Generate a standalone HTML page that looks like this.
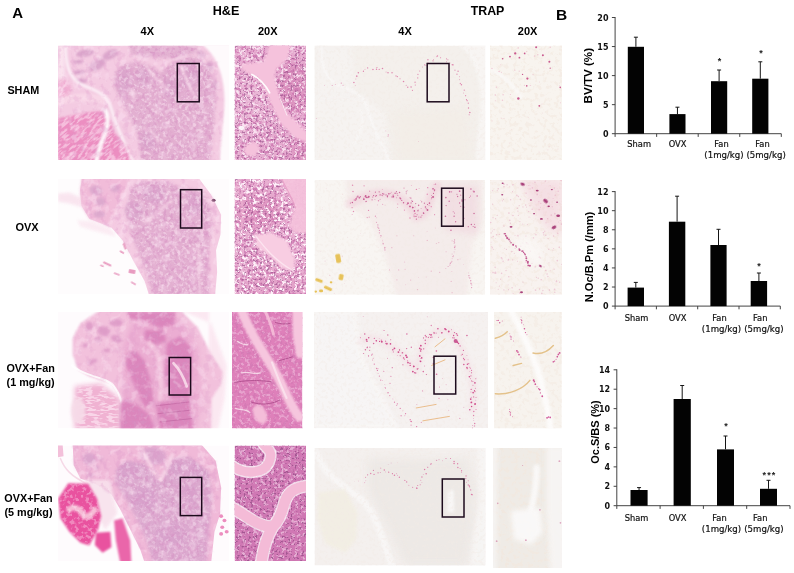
<!DOCTYPE html>
<html lang="en"><head><meta charset="utf-8"><title>Figure</title>
<style>html,body{margin:0;padding:0;background:#fff;}svg{display:block}text{font-family:"Liberation Sans",sans-serif;fill:#000}.b{font-weight:bold}.x{font-family:"DejaVu Sans","Liberation Sans",sans-serif;font-size:8.3px;text-anchor:middle;fill:#111;stroke:#111;stroke-width:.2px}.t{font-family:"DejaVu Sans","Liberation Sans",sans-serif;font-weight:bold;font-size:8px;text-anchor:end;fill:#111}.yl{font-weight:bold;text-anchor:middle}.st{font-weight:bold;font-size:9px;text-anchor:middle;fill:#222;letter-spacing:1.2px}</style></head><body>
<svg width="794" height="573" viewBox="0 0 794 573">
<defs>
<clipPath id="cA1"><rect x="58" y="45.6" width="171.0" height="114.4"/></clipPath>
<clipPath id="cA2"><rect x="58" y="179" width="171.0" height="115.0"/></clipPath>
<clipPath id="cA3"><rect x="58" y="312" width="171.0" height="116.3"/></clipPath>
<clipPath id="cA4"><rect x="58" y="445.6" width="171.0" height="115.4"/></clipPath>
<clipPath id="cB1"><rect x="234.6" y="45.6" width="71.4" height="114.4"/></clipPath>
<clipPath id="cB2"><rect x="234.6" y="179" width="71.4" height="115.0"/></clipPath>
<clipPath id="cB3"><rect x="232" y="312" width="70.4" height="116.4"/></clipPath>
<clipPath id="cB4"><rect x="234.6" y="445.6" width="71.4" height="115.4"/></clipPath>
<clipPath id="cC1"><rect x="314.5" y="45.6" width="170.8" height="114.4"/></clipPath>
<clipPath id="cC2"><rect x="314.5" y="180" width="170.7" height="114.8"/></clipPath>
<clipPath id="cC3"><rect x="314" y="312" width="174.0" height="116.2"/></clipPath>
<clipPath id="cC4"><rect x="314.5" y="448" width="171.0" height="117.5"/></clipPath>
<clipPath id="cD1"><rect x="490" y="45.6" width="72.0" height="114.4"/></clipPath>
<clipPath id="cD2"><rect x="490" y="180" width="72.0" height="114.8"/></clipPath>
<clipPath id="cD3"><rect x="494" y="312" width="67.8" height="116.5"/></clipPath>
<clipPath id="cD4"><rect x="493" y="448" width="68.8" height="120.0"/></clipPath>
<filter id="b1" filterUnits="userSpaceOnUse" x="-100" y="-100" width="1100" height="900" color-interpolation-filters="sRGB"><feGaussianBlur stdDeviation="1"/></filter>
<filter id="b1_5" filterUnits="userSpaceOnUse" x="-100" y="-100" width="1100" height="900" color-interpolation-filters="sRGB"><feGaussianBlur stdDeviation="1.5"/></filter>
<filter id="b2" filterUnits="userSpaceOnUse" x="-100" y="-100" width="1100" height="900" color-interpolation-filters="sRGB"><feGaussianBlur stdDeviation="2"/></filter>
<filter id="b3" filterUnits="userSpaceOnUse" x="-100" y="-100" width="1100" height="900" color-interpolation-filters="sRGB"><feGaussianBlur stdDeviation="3"/></filter>
<filter id="b4" filterUnits="userSpaceOnUse" x="-100" y="-100" width="1100" height="900" color-interpolation-filters="sRGB"><feGaussianBlur stdDeviation="4"/></filter>
<filter id="b5" filterUnits="userSpaceOnUse" x="-100" y="-100" width="1100" height="900" color-interpolation-filters="sRGB"><feGaussianBlur stdDeviation="5"/></filter>
<filter id="b6" filterUnits="userSpaceOnUse" x="-100" y="-100" width="1100" height="900" color-interpolation-filters="sRGB"><feGaussianBlur stdDeviation="6"/></filter>
<filter id="b7" filterUnits="userSpaceOnUse" x="-100" y="-100" width="1100" height="900" color-interpolation-filters="sRGB"><feGaussianBlur stdDeviation="7"/></filter>
<filter id="b8" filterUnits="userSpaceOnUse" x="-100" y="-100" width="1100" height="900" color-interpolation-filters="sRGB"><feGaussianBlur stdDeviation="8"/></filter>
<filter id="b9" filterUnits="userSpaceOnUse" x="-100" y="-100" width="1100" height="900" color-interpolation-filters="sRGB"><feGaussianBlur stdDeviation="9"/></filter>
<filter id="b10" filterUnits="userSpaceOnUse" x="-100" y="-100" width="1100" height="900" color-interpolation-filters="sRGB"><feGaussianBlur stdDeviation="10"/></filter>
<filter id="b12" filterUnits="userSpaceOnUse" x="-100" y="-100" width="1100" height="900" color-interpolation-filters="sRGB"><feGaussianBlur stdDeviation="12"/></filter>
<filter id="b14" filterUnits="userSpaceOnUse" x="-100" y="-100" width="1100" height="900" color-interpolation-filters="sRGB"><feGaussianBlur stdDeviation="14"/></filter>
<filter id="b16" filterUnits="userSpaceOnUse" x="-100" y="-100" width="1100" height="900" color-interpolation-filters="sRGB"><feGaussianBlur stdDeviation="16"/></filter>
<filter id="b18" filterUnits="userSpaceOnUse" x="-100" y="-100" width="1100" height="900" color-interpolation-filters="sRGB"><feGaussianBlur stdDeviation="18"/></filter>
<filter id="b20" filterUnits="userSpaceOnUse" x="-100" y="-100" width="1100" height="900" color-interpolation-filters="sRGB"><feGaussianBlur stdDeviation="20"/></filter>
<filter id="b24" filterUnits="userSpaceOnUse" x="-100" y="-100" width="1100" height="900" color-interpolation-filters="sRGB"><feGaussianBlur stdDeviation="24"/></filter>
<filter id="b30" filterUnits="userSpaceOnUse" x="-100" y="-100" width="1100" height="900" color-interpolation-filters="sRGB"><feGaussianBlur stdDeviation="30"/></filter>
<filter id="nzA" x="0" y="0" width="100%" height="100%" color-interpolation-filters="sRGB"><feTurbulence type="fractalNoise" baseFrequency="0.06" numOctaves="2" seed="3" result="t"/><feColorMatrix in="t" type="matrix" values="0 0 0 0 1  0 0 0 0 0.93  0 0 0 0 0.97  0 0 0 6 -3.0"/><feGaussianBlur stdDeviation="1.2"/><feComposite in2="SourceGraphic" operator="in"/></filter>
<filter id="nzB" x="0" y="0" width="100%" height="100%" color-interpolation-filters="sRGB"><feTurbulence type="fractalNoise" baseFrequency="0.06" numOctaves="2" seed="11" result="t"/><feColorMatrix in="t" type="matrix" values="0 0 0 0 0.84  0 0 0 0 0.58  0 0 0 0 0.77  0 0 0 -6 2.9"/><feGaussianBlur stdDeviation="1.2"/><feComposite in2="SourceGraphic" operator="in"/></filter>
<filter id="nzM" x="0" y="0" width="100%" height="100%" color-interpolation-filters="sRGB"><feTurbulence type="fractalNoise" baseFrequency="0.03 0.09" numOctaves="2" seed="5" result="t"/><feColorMatrix in="t" type="matrix" values="0 0 0 0 1  0 0 0 0 0.93  0 0 0 0 0.97  0 0 0 7 -3.3"/><feGaussianBlur stdDeviation="1.5"/><feComposite in2="SourceGraphic" operator="in"/></filter>
<filter id="nzC" x="0" y="0" width="100%" height="100%" color-interpolation-filters="sRGB"><feTurbulence type="fractalNoise" baseFrequency="0.06" numOctaves="3" seed="7" result="t"/><feColorMatrix in="t" type="matrix" values="0 0 0 0 1  0 0 0 0 0.95  0 0 0 0 0.98  0 0 0 7 -3.6"/><feGaussianBlur stdDeviation="1.5"/><feComposite in2="SourceGraphic" operator="in"/></filter>
<filter id="nzD" x="0" y="0" width="100%" height="100%" color-interpolation-filters="sRGB"><feTurbulence type="fractalNoise" baseFrequency="0.07" numOctaves="3" seed="17" result="t"/><feColorMatrix in="t" type="matrix" values="0 0 0 0 0.8  0 0 0 0 0.46  0 0 0 0 0.69  0 0 0 -7 3.3"/><feGaussianBlur stdDeviation="1.2"/><feComposite in2="SourceGraphic" operator="in"/></filter>
<filter id="nzL" x="0" y="0" width="100%" height="100%" color-interpolation-filters="sRGB"><feTurbulence type="fractalNoise" baseFrequency="0.025" numOctaves="3" seed="41" result="t"/><feColorMatrix in="t" type="matrix" values="0 0 0 0 1  0 0 0 0 0.92  0 0 0 0 0.97  0 0 0 5 -2.5"/><feGaussianBlur stdDeviation="2"/><feComposite in2="SourceGraphic" operator="in"/></filter>
<filter id="nzK" x="0" y="0" width="100%" height="100%" color-interpolation-filters="sRGB"><feTurbulence type="fractalNoise" baseFrequency="0.03" numOctaves="3" seed="43" result="t"/><feColorMatrix in="t" type="matrix" values="0 0 0 0 0.86  0 0 0 0 0.58  0 0 0 0 0.78  0 0 0 -5 2.35"/><feGaussianBlur stdDeviation="2"/><feComposite in2="SourceGraphic" operator="in"/></filter>
<filter id="nzT" x="0" y="0" width="100%" height="100%" color-interpolation-filters="sRGB"><feTurbulence type="fractalNoise" baseFrequency="0.07" numOctaves="2" seed="31" result="t"/><feColorMatrix in="t" type="matrix" values="0 0 0 0 0.95  0 0 0 0 0.92  0 0 0 0 0.9  0 0 0 -6 2.9"/><feGaussianBlur stdDeviation="1.2"/><feComposite in2="SourceGraphic" operator="in"/></filter>
<filter id="nzU" x="0" y="0" width="100%" height="100%" color-interpolation-filters="sRGB"><feTurbulence type="fractalNoise" baseFrequency="0.05" numOctaves="3" seed="37" result="t"/><feColorMatrix in="t" type="matrix" values="0 0 0 0 0.95  0 0 0 0 0.91  0 0 0 0 0.87  0 0 0 -6 2.9"/><feGaussianBlur stdDeviation="1.5"/><feComposite in2="SourceGraphic" operator="in"/></filter>
<filter id="nzE" x="0" y="0" width="100%" height="100%" color-interpolation-filters="sRGB"><feTurbulence type="fractalNoise" baseFrequency="0.09" numOctaves="3" seed="23" result="t"/><feColorMatrix in="t" type="matrix" values="0 0 0 0 0.58  0 0 0 0 0.3  0 0 0 0 0.53  0 0 0 -9 3.6"/><feGaussianBlur stdDeviation="1.0"/><feComposite in2="SourceGraphic" operator="in"/></filter>
</defs>
<rect width="794" height="573" fill="#fff"/>
<text x="12.3" y="18" class="b" font-size="15" text-anchor="start" >A</text>
<text x="556" y="19.6" class="b" font-size="15.5" text-anchor="start" >B</text>
<text x="226" y="15.1" class="b" font-size="12.6" text-anchor="middle" >H&amp;E</text>
<text x="487.5" y="15.1" class="b" font-size="12.4" text-anchor="middle" >TRAP</text>
<text x="147.3" y="35.2" class="b" font-size="11" text-anchor="middle" >4X</text>
<text x="267.7" y="35.2" class="b" font-size="11" text-anchor="middle" >20X</text>
<text x="405" y="35.2" class="b" font-size="11" text-anchor="middle" >4X</text>
<text x="527.6" y="35.2" class="b" font-size="11" text-anchor="middle" >20X</text>
<text x="23.3" y="94" class="b" font-size="10.8" text-anchor="middle" >SHAM</text>
<text x="27" y="230.8" class="b" font-size="11" text-anchor="middle" >OVX</text>
<text x="30.6" y="372.2" class="b" font-size="10.8" text-anchor="middle" >OVX+Fan</text>
<text x="30.6" y="386" class="b" font-size="10.8" text-anchor="middle" >(1 mg/kg)</text>
<text x="28.5" y="501.6" class="b" font-size="10.8" text-anchor="middle" >OVX+Fan</text>
<text x="28.5" y="515.5" class="b" font-size="10.8" text-anchor="middle" >(5 mg/kg)</text>
<g clip-path="url(#cA1)"><rect x="58" y="45.6" width="171.0" height="114.4" fill="#f4cbe2"/><g transform="translate(56 44) scale(0.22166)"><path d="M268,125 300,95 350,82 420,95 470,130 520,88 600,55 650,62 700,125 722,230 710,400 695,540 385,540 372,420 335,330 292,250 262,185Z" fill="#e3b0d1" filter="url(#b8)" />
<path d="M330,8 640,8 625,42 530,66 400,58 340,45Z" fill="#e2b0d1" filter="url(#b6)" opacity="0.95" />
<mask id="mA10" maskUnits="userSpaceOnUse" x="-50" y="-50" width="900" height="700"><path d="M330,8 640,8 625,42 530,66 400,58 340,45Z" fill="#fff" filter="url(#b6)"/></mask>
<g mask="url(#mA10)" opacity="0.6"><rect x="-200" y="-200" width="1200" height="1000" fill="#fff" filter="url(#nzB)"/></g>
<ellipse cx="130" cy="42" rx="42" ry="16" fill="#dba6cc" filter="url(#b4)" transform="rotate(-10 130 42)"/>
<ellipse cx="185" cy="95" rx="42" ry="22" fill="#dba6cc" filter="url(#b4)" transform="rotate(-30 185 95)"/>
<ellipse cx="245" cy="48" rx="38" ry="20" fill="#dba6cc" filter="url(#b4)" transform="rotate(-25 245 48)"/>
<ellipse cx="100" cy="80" rx="22" ry="9" fill="#dba6cc" filter="url(#b4)"/>
<ellipse cx="105" cy="128" rx="28" ry="11" fill="#dba6cc" filter="url(#b4)" transform="rotate(-5 105 128)"/>
<ellipse cx="115" cy="165" rx="26" ry="11" fill="#dba6cc" filter="url(#b4)" transform="rotate(10 115 165)"/>
<ellipse cx="655" cy="45" rx="22" ry="12" fill="#dba6cc" filter="url(#b4)" transform="rotate(30 655 45)"/>
<ellipse cx="695" cy="100" rx="14" ry="22" fill="#dba6cc" filter="url(#b4)" transform="rotate(-20 695 100)"/>
<ellipse cx="718" cy="185" rx="9" ry="24" fill="#dba6cc" filter="url(#b4)"/>
<ellipse cx="310" cy="170" rx="35" ry="60" fill="#d9a2ca" filter="url(#b8)" opacity="0.7" transform="rotate(10 310 170)"/>
<ellipse cx="395" cy="150" rx="35" ry="45" fill="#d9a2ca" filter="url(#b8)" opacity="0.7"/>
<ellipse cx="600" cy="140" rx="50" ry="60" fill="#d9a2ca" filter="url(#b8)" opacity="0.7"/>
<ellipse cx="520" cy="200" rx="40" ry="50" fill="#d9a2ca" filter="url(#b8)" opacity="0.7"/>
<ellipse cx="420" cy="430" rx="40" ry="50" fill="#d9a2ca" filter="url(#b8)" opacity="0.7"/>
<mask id="mA11" maskUnits="userSpaceOnUse" x="-50" y="-50" width="900" height="700"><path d="M268,125 300,95 350,82 420,95 470,130 520,88 600,55 650,62 700,125 722,230 710,400 695,540 385,540 372,420 335,330 292,250 262,185Z" fill="#fff" filter="url(#b8)"/></mask>
<g mask="url(#mA11)" opacity="0.4"><rect x="-200" y="-200" width="1200" height="1000" fill="#fff" filter="url(#nzA)"/></g>
<g mask="url(#mA11)" opacity="0.5"><rect x="-200" y="-200" width="1200" height="1000" fill="#fff" filter="url(#nzB)"/></g>
<path d="M405,100 C440,140 470,180 505,205 M345,205 L352,262 M562,100 C585,150 600,190 622,232 M400,380 C430,390 450,410 460,440" fill="none" stroke="#f6d4e7" stroke-width="12" stroke-linecap="round" stroke-linejoin="round" filter="url(#b4)" opacity="0.85" />
<path d="M8,335 120,312 215,300 245,340 262,400 330,470 345,540 8,540Z" fill="#ec8ec1" filter="url(#b5)" />
<path d="M8,165 50,160 70,200 55,250 8,255Z" fill="#f0a6ce" filter="url(#b6)" opacity="0.75" />
<mask id="mA12" maskUnits="userSpaceOnUse" x="-50" y="-50" width="900" height="700"><path d="M8,165 50,160 70,200 55,250 8,255Z" fill="#fff" filter="url(#b6)"/></mask>
<g mask="url(#mA12)" opacity="0.5"><rect x="-200" y="-200" width="1200" height="1000" fill="#fff" filter="url(#nzM)" transform="rotate(-40 400 300)"/></g>
<mask id="mA13" maskUnits="userSpaceOnUse" x="-50" y="-50" width="900" height="700"><path d="M8,335 120,312 215,300 245,340 262,400 330,470 345,540 8,540Z" fill="#fff" filter="url(#b6)"/></mask>
<g mask="url(#mA13)" opacity="0.5"><rect x="-200" y="-200" width="1200" height="1000" fill="#fff" filter="url(#nzM)" transform="rotate(-40 400 300)"/></g>
<path d="M8,262 C80,240 150,228 215,255" fill="none" stroke="#f8d6e7" stroke-width="34" stroke-linecap="round" stroke-linejoin="round" filter="url(#b4)" />
<path d="M44,15 C42,100 62,165 130,190 S235,235 252,300 S300,430 352,540" fill="none" stroke="#fff" stroke-width="13" stroke-linecap="round" stroke-linejoin="round" filter="url(#b4)" opacity="0.7" />
<path d="M8,8 40,8 40,150 8,160Z" fill="#fbe9f2" filter="url(#b6)" opacity="0.8" />
<path d="M218,298 C250,335 225,400 205,447 S188,510 182,535" fill="none" stroke="#fff" stroke-width="20" stroke-linecap="round" stroke-linejoin="round" filter="url(#b4)" opacity="0.9" />
<path d="M655,0 C740,60 768,180 758,300 S738,480 740,540 L800,540 L800,0Z" fill="#fefafc" filter="url(#b4)" />
<mask id="mA14" maskUnits="userSpaceOnUse" x="-50" y="-50" width="900" height="700"><path d="M0,0 650,0 735,90 755,300 736,540 0,540Z" fill="#fff" filter="url(#b8)"/></mask>
<g mask="url(#mA14)" opacity="0.3"><rect x="-200" y="-200" width="1200" height="1000" fill="#fff" filter="url(#nzL)"/></g>
<g mask="url(#mA14)" opacity="0.25"><rect x="-200" y="-200" width="1200" height="1000" fill="#fff" filter="url(#nzK)"/></g></g></g>
<g clip-path="url(#cA2)"><rect x="58" y="179" width="171.0" height="115.0" fill="#fefcfd"/><g transform="translate(56 177) scale(0.22166)"><path d="M8,75 60,70 115,95 112,135 60,120 8,110Z" fill="#f9e3ee" filter="url(#b6)" opacity="0.9" />
<path d="M95,195 160,200 250,235 270,270 200,250 110,225Z" fill="#fbeaf2" filter="url(#b6)" opacity="0.9" />
<path d="M118,0 640,0 700,80 745,170 742,260 722,330 727,430 717,540 422,540 400,470 350,380 300,285 250,228 150,188 115,130 108,60Z" fill="#f4cbe2" filter="url(#b3)" />
<path d="M118,0 335,0 305,120 252,225 150,186 116,130 110,60Z" fill="#f1bbd9" filter="url(#b8)" opacity="0.9" />
<path d="M330,70 350,30 390,20 500,20 560,45 660,60 698,140 703,260 688,330 693,540 436,540 408,440 368,335 335,250 318,170Z" fill="#e3b0d1" filter="url(#b8)" />
<ellipse cx="180" cy="62" rx="30" ry="22" fill="#dba8cd" filter="url(#b5)" opacity="0.9" transform="rotate(20 180 62)"/>
<ellipse cx="200" cy="112" rx="22" ry="20" fill="#dba8cd" filter="url(#b5)" opacity="0.9"/>
<ellipse cx="195" cy="168" rx="26" ry="16" fill="#dba8cd" filter="url(#b5)" opacity="0.9"/>
<ellipse cx="268" cy="52" rx="22" ry="16" fill="#dba8cd" filter="url(#b5)" opacity="0.9" transform="rotate(-20 268 52)"/>
<ellipse cx="352" cy="152" rx="42" ry="40" fill="#dba8cd" filter="url(#b5)" opacity="0.9" transform="rotate(20 352 152)"/>
<ellipse cx="442" cy="78" rx="52" ry="42" fill="#dba8cd" filter="url(#b5)" opacity="0.9" transform="rotate(10 442 78)"/>
<ellipse cx="620" cy="120" rx="40" ry="50" fill="#dba8cd" filter="url(#b5)" opacity="0.9"/>
<mask id="mA20" maskUnits="userSpaceOnUse" x="-50" y="-50" width="900" height="700"><path d="M330,70 350,30 390,20 500,20 560,45 660,60 698,140 703,260 688,330 693,540 436,540 408,440 368,335 335,250 318,170Z" fill="#fff" filter="url(#b8)"/></mask>
<g mask="url(#mA20)" opacity="0.4"><rect x="-200" y="-200" width="1200" height="1000" fill="#fff" filter="url(#nzA)"/></g>
<g mask="url(#mA20)" opacity="0.5"><rect x="-200" y="-200" width="1200" height="1000" fill="#fff" filter="url(#nzB)"/></g>
<path d="M245,215 C285,150 300,90 345,20" fill="none" stroke="#f6d2e6" stroke-width="22" stroke-linecap="round" stroke-linejoin="round" filter="url(#b4)" opacity="0.9" />
<path d="M400,200 C450,190 470,140 520,110" fill="none" stroke="#f4cfe4" stroke-width="16" stroke-linecap="round" stroke-linejoin="round" filter="url(#b4)" opacity="0.8" />
<path d="M640,300 C650,380 640,460 650,530" fill="none" stroke="#f5d3e6" stroke-width="12" stroke-linecap="round" stroke-linejoin="round" filter="url(#b4)" opacity="0.7" />
<rect x="215" y="380" width="40" height="9" rx="3" fill="#e58bb6" transform="rotate(25 215 380)" filter="url(#b2)" opacity=".85"/>
<rect x="330" y="415" width="30" height="18" rx="3" fill="#e58bb6" transform="rotate(10 330 415)" filter="url(#b2)" opacity=".85"/>
<rect x="290" y="330" width="22" height="8" rx="3" fill="#e58bb6" transform="rotate(30 290 330)" filter="url(#b2)" opacity=".85"/>
<rect x="262" y="430" width="28" height="7" rx="3" fill="#e58bb6" transform="rotate(20 262 430)" filter="url(#b2)" opacity=".85"/>
<rect x="200" y="395" width="18" height="6" rx="3" fill="#e58bb6" transform="rotate(20 200 395)" filter="url(#b2)" opacity=".85"/>
<rect x="340" y="470" width="26" height="7" rx="3" fill="#e58bb6" transform="rotate(30 340 470)" filter="url(#b2)" opacity=".85"/>
<rect x="300" y="300" width="10" height="30" rx="3" fill="#e58bb6" transform="rotate(-20 300 300)" filter="url(#b2)" opacity=".85"/>
<ellipse cx="711" cy="105" rx="9" ry="7" fill="#5a2048" filter="url(#b2)" opacity="0.9"/>
<mask id="mA21" maskUnits="userSpaceOnUse" x="-50" y="-50" width="900" height="700"><path d="M118,0 640,0 700,80 745,170 742,260 722,330 727,430 717,540 422,540 400,470 350,380 300,285 250,228 150,188 115,130 108,60Z" fill="#fff" filter="url(#b8)"/></mask>
<g mask="url(#mA21)" opacity="0.35"><rect x="-200" y="-200" width="1200" height="1000" fill="#fff" filter="url(#nzL)"/></g>
<g mask="url(#mA21)" opacity="0.3"><rect x="-200" y="-200" width="1200" height="1000" fill="#fff" filter="url(#nzK)"/></g></g></g>
<g clip-path="url(#cA3)"><rect x="58" y="312" width="171.0" height="116.3" fill="#fefbfd"/><g transform="translate(56 310) scale(0.22166)"><path d="M560,0 700,60 770,250 760,400 730,540 690,540 690,0Z" fill="#fbe6f0" filter="url(#b8)" opacity="0.9" />
<path d="M200,0 560,0 640,80 700,200 752,280 742,340 702,400 700,540 290,540 300,400 250,330 150,300 100,270 75,200 75,130 110,60Z" fill="#f2c1dc" filter="url(#b4)" />
<path d="M85,345 200,332 290,400 292,540 85,540Z" fill="#f0b2d2" filter="url(#b12)" />
<mask id="mA30" maskUnits="userSpaceOnUse" x="-50" y="-50" width="900" height="700"><path d="M85,345 200,332 290,400 292,540 85,540Z" fill="#fff" filter="url(#b14)"/></mask>
<g mask="url(#mA30)" opacity="0.6"><rect x="-200" y="-200" width="1200" height="1000" fill="#fff" filter="url(#nzM)"/></g>
<ellipse cx="100" cy="455" rx="32" ry="58" fill="#f6dbe8" filter="url(#b6)" opacity="0.95"/>
<path d="M72,250 C120,300 230,300 262,345 S300,420 296,470" fill="none" stroke="#fff" stroke-width="9" stroke-linecap="round" stroke-linejoin="round" filter="url(#b3)" opacity="0.85" />
<path d="M300,170 340,60 440,20 560,40 640,170 655,400 632,540 290,540 300,400Z" fill="#eaaad1" filter="url(#b12)" opacity="0.85" />
<path d="M320,200 360,185 400,230 430,330 440,420 400,440 350,330 315,250Z" fill="#db84bb" filter="url(#b6)" opacity="0.95" />
<path d="M450,420 600,400 620,540 470,540Z" fill="#db84bb" filter="url(#b6)" opacity="0.95" />
<path d="M500,150 560,120 612,170 602,400 520,400 490,300Z" fill="#db84bb" filter="url(#b6)" opacity="0.95" />
<path d="M320,8 540,8 530,70 470,80 400,50 330,40Z" fill="#db84bb" filter="url(#b6)" opacity="0.95" />
<path d="M400,90 480,90 500,140 440,160 400,130Z" fill="#db84bb" filter="url(#b6)" opacity="0.95" />
<path d="M290,420 330,400 420,470 450,540 290,540Z" fill="#db84bb" filter="url(#b6)" opacity="0.95" />
<ellipse cx="150" cy="75" rx="18" ry="22" fill="#de9cc8" filter="url(#b4)" opacity="0.9"/>
<ellipse cx="215" cy="95" rx="30" ry="22" fill="#de9cc8" filter="url(#b4)" opacity="0.9" transform="rotate(10 215 95)"/>
<ellipse cx="270" cy="58" rx="30" ry="16" fill="#de9cc8" filter="url(#b4)" opacity="0.9"/>
<ellipse cx="272" cy="130" rx="26" ry="16" fill="#de9cc8" filter="url(#b4)" opacity="0.9" transform="rotate(20 272 130)"/>
<ellipse cx="190" cy="132" rx="16" ry="14" fill="#de9cc8" filter="url(#b4)" opacity="0.9"/>
<ellipse cx="165" cy="232" rx="22" ry="10" fill="#de9cc8" filter="url(#b4)" opacity="0.9" transform="rotate(-20 165 232)"/>
<ellipse cx="230" cy="182" rx="16" ry="10" fill="#de9cc8" filter="url(#b4)" opacity="0.9"/>
<ellipse cx="130" cy="160" rx="10" ry="10" fill="#de9cc8" filter="url(#b4)" opacity="0.9"/>
<mask id="mA31" maskUnits="userSpaceOnUse" x="-50" y="-50" width="900" height="700"><path d="M320,200 360,185 400,230 430,330 440,420 400,440 350,330 315,250Z" fill="#fff" filter="url(#b8)"/></mask>
<g mask="url(#mA31)" opacity="0.45"><rect x="-200" y="-200" width="1200" height="1000" fill="#fff" filter="url(#nzB)"/></g>
<mask id="mA32" maskUnits="userSpaceOnUse" x="-50" y="-50" width="900" height="700"><path d="M450,420 600,400 620,540 470,540Z" fill="#fff" filter="url(#b8)"/></mask>
<g mask="url(#mA32)" opacity="0.45"><rect x="-200" y="-200" width="1200" height="1000" fill="#fff" filter="url(#nzB)"/></g>
<mask id="mA33" maskUnits="userSpaceOnUse" x="-50" y="-50" width="900" height="700"><path d="M500,150 560,120 612,170 602,400 520,400 490,300Z" fill="#fff" filter="url(#b8)"/></mask>
<g mask="url(#mA33)" opacity="0.45"><rect x="-200" y="-200" width="1200" height="1000" fill="#fff" filter="url(#nzB)"/></g>
<mask id="mA34" maskUnits="userSpaceOnUse" x="-50" y="-50" width="900" height="700"><path d="M320,8 540,8 530,70 470,80 400,50 330,40Z" fill="#fff" filter="url(#b8)"/></mask>
<g mask="url(#mA34)" opacity="0.45"><rect x="-200" y="-200" width="1200" height="1000" fill="#fff" filter="url(#nzB)"/></g>
<mask id="mA35" maskUnits="userSpaceOnUse" x="-50" y="-50" width="900" height="700"><path d="M400,90 480,90 500,140 440,160 400,130Z" fill="#fff" filter="url(#b8)"/></mask>
<g mask="url(#mA35)" opacity="0.45"><rect x="-200" y="-200" width="1200" height="1000" fill="#fff" filter="url(#nzB)"/></g>
<mask id="mA36" maskUnits="userSpaceOnUse" x="-50" y="-50" width="900" height="700"><path d="M290,420 330,400 420,470 450,540 290,540Z" fill="#fff" filter="url(#b8)"/></mask>
<g mask="url(#mA36)" opacity="0.45"><rect x="-200" y="-200" width="1200" height="1000" fill="#fff" filter="url(#nzB)"/></g>
<path d="M530,240 C560,270 575,300 590,345" fill="none" stroke="#f9dbea" stroke-width="12" stroke-linecap="round" stroke-linejoin="round" filter="url(#b3)" opacity="0.9" />
<path d="M420,150 C470,180 480,260 470,400" fill="none" stroke="#f4c8e0" stroke-width="22" stroke-linecap="round" stroke-linejoin="round" filter="url(#b5)" opacity="0.9" />
<path d="M452,432 L600,415 M460,468 L606,452 M470,505 L612,490" fill="none" stroke="#b85a98" stroke-width="3" stroke-linecap="round" stroke-linejoin="round" filter="url(#b1)" opacity="0.8" />
<mask id="mA37" maskUnits="userSpaceOnUse" x="-50" y="-50" width="900" height="700"><path d="M200,0 560,0 640,80 700,200 752,280 742,340 702,400 700,540 290,540 300,400 250,330 150,300 100,270 75,200 75,130 110,60Z" fill="#fff" filter="url(#b8)"/></mask>
<g mask="url(#mA37)" opacity="0.28"><rect x="-200" y="-200" width="1200" height="1000" fill="#fff" filter="url(#nzL)"/></g>
<g mask="url(#mA37)" opacity="0.2"><rect x="-200" y="-200" width="1200" height="1000" fill="#fff" filter="url(#nzK)"/></g></g></g>
<g clip-path="url(#cA4)"><rect x="58" y="445.6" width="171.0" height="115.4" fill="#fefbfd"/><g transform="translate(56 443) scale(0.22166)"><path d="M75,0 650,0 720,80 745,200 740,320 715,400 700,540 400,540 380,480 340,400 290,300 250,232 180,186 110,160 80,100Z" fill="#f0b9d8" filter="url(#b3)" />
<path d="M8,8 30,8 34,60 8,64Z" fill="#f3c0da" filter="url(#b3)" />
<path d="M20,70 C40,120 70,150 135,182" fill="none" stroke="#f6d9e7" stroke-width="7" stroke-linecap="round" stroke-linejoin="round" filter="url(#b2)" />
<path d="M272,120 310,85 400,90 470,170 520,70 600,60 690,130 705,250 690,400 680,540 435,540 408,440 362,340 312,250 268,180Z" fill="#dcaacf" filter="url(#b8)" />
<ellipse cx="150" cy="72" rx="30" ry="28" fill="#d8a2cc" filter="url(#b6)" opacity="0.85"/>
<ellipse cx="205" cy="72" rx="9" ry="9" fill="#d8a2cc" filter="url(#b6)" opacity="0.85"/>
<ellipse cx="185" cy="110" rx="10" ry="10" fill="#d8a2cc" filter="url(#b6)" opacity="0.85"/>
<ellipse cx="155" cy="145" rx="14" ry="8" fill="#d8a2cc" filter="url(#b6)" opacity="0.85"/>
<ellipse cx="440" cy="58" rx="58" ry="40" fill="#d8a2cc" filter="url(#b6)" opacity="0.85" transform="rotate(10 440 58)"/>
<ellipse cx="330" cy="122" rx="42" ry="40" fill="#d8a2cc" filter="url(#b6)" opacity="0.85"/>
<ellipse cx="545" cy="120" rx="32" ry="40" fill="#d8a2cc" filter="url(#b6)" opacity="0.85" transform="rotate(20 545 120)"/>
<ellipse cx="625" cy="140" rx="30" ry="45" fill="#d8a2cc" filter="url(#b6)" opacity="0.85" transform="rotate(10 625 140)"/>
<ellipse cx="400" cy="250" rx="60" ry="50" fill="#d8a2cc" filter="url(#b6)" opacity="0.85"/>
<ellipse cx="520" cy="420" rx="70" ry="60" fill="#d8a2cc" filter="url(#b6)" opacity="0.85"/>
<ellipse cx="600" cy="230" rx="30" ry="50" fill="#d8a2cc" filter="url(#b6)" opacity="0.85"/>
<mask id="mA40" maskUnits="userSpaceOnUse" x="-50" y="-50" width="900" height="700"><path d="M272,120 310,85 400,90 470,170 520,70 600,60 690,130 705,250 690,400 680,540 435,540 408,440 362,340 312,250 268,180Z" fill="#fff" filter="url(#b8)"/></mask>
<g mask="url(#mA40)" opacity="0.3"><rect x="-200" y="-200" width="1200" height="1000" fill="#fff" filter="url(#nzA)"/></g>
<g mask="url(#mA40)" opacity="0.5"><rect x="-200" y="-200" width="1200" height="1000" fill="#fff" filter="url(#nzB)"/></g>
<path d="M385,30 C420,90 450,140 472,165 C495,130 510,90 525,55" fill="none" stroke="#f6d3e6" stroke-width="18" stroke-linecap="round" stroke-linejoin="round" filter="url(#b4)" opacity="0.95" />
<path d="M120,167 243,167 277,317 222,392 175,303Z" fill="#f8e2ed" filter="url(#b6)" opacity="0.9" />
<path d="M55,182 145,184 185,250 204,330 190,390 150,462 110,450 60,400 20,340 10,250Z" fill="#e9529f" filter="url(#b4)" />
<path d="M60,300 C80,280 110,300 120,320 S160,330 175,300" fill="none" stroke="#f6bdd6" stroke-width="26" stroke-linecap="round" stroke-linejoin="round" filter="url(#b4)" />
<path d="M180,405 245,400 250,470 210,495 175,460Z" fill="#e9529f" filter="url(#b4)" />
<path d="M262,350 300,340 335,440 340,540 290,540 270,440Z" fill="#ea66aa" filter="url(#b4)" />
<mask id="mA41" maskUnits="userSpaceOnUse" x="-50" y="-50" width="900" height="700"><path d="M55,182 145,184 185,250 204,330 190,390 150,462 110,450 60,400 20,340 10,250Z" fill="#fff" filter="url(#b8)"/></mask>
<g mask="url(#mA41)" opacity="0.35"><rect x="-200" y="-200" width="1200" height="1000" fill="#fff" filter="url(#nzA)"/></g>
<ellipse cx="745" cy="330" rx="9" ry="8" fill="#e873b0" filter="url(#b2)" opacity="0.8"/>
<ellipse cx="760" cy="350" rx="9" ry="8" fill="#e873b0" filter="url(#b2)" opacity="0.8"/>
<ellipse cx="750" cy="380" rx="9" ry="8" fill="#e873b0" filter="url(#b2)" opacity="0.8"/>
<ellipse cx="770" cy="400" rx="9" ry="8" fill="#e873b0" filter="url(#b2)" opacity="0.8"/>
<ellipse cx="745" cy="410" rx="9" ry="8" fill="#e873b0" filter="url(#b2)" opacity="0.8"/>
<mask id="mA42" maskUnits="userSpaceOnUse" x="-50" y="-50" width="900" height="700"><path d="M75,0 650,0 720,80 745,200 740,320 715,400 700,540 400,540 380,480 340,400 290,300 250,232 180,186 110,160 80,100Z" fill="#fff" filter="url(#b8)"/></mask>
<g mask="url(#mA42)" opacity="0.35"><rect x="-200" y="-200" width="1200" height="1000" fill="#fff" filter="url(#nzL)"/></g>
<g mask="url(#mA42)" opacity="0.3"><rect x="-200" y="-200" width="1200" height="1000" fill="#fff" filter="url(#nzK)"/></g></g></g>
<g clip-path="url(#cB1)"><rect x="234.6" y="45.6" width="71.4" height="114.4" fill="#e6acd0"/><g transform="translate(232 43) scale(0.20942)"><ellipse cx="290" cy="210" rx="70" ry="120" fill="#c85e9c" filter="url(#b16)" opacity="0.3"/>
<ellipse cx="330" cy="510" rx="50" ry="60" fill="#c85e9c" filter="url(#b14)" opacity="0.3"/>
<ellipse cx="90" cy="300" rx="80" ry="150" fill="#f4d0e4" filter="url(#b16)" opacity="0.3"/>
<rect x="0" y="0" width="800" height="600" fill="#fff" filter="url(#nzC)" opacity="0.75"/>
<rect x="0" y="0" width="800" height="600" fill="#fff" filter="url(#nzD)" opacity="0.8"/>
<rect x="0" y="0" width="800" height="600" fill="#fff" filter="url(#nzE)" opacity="0.6"/>
<path d="M185,0 280,0 268,70 215,120 202,160 228,260 262,330 330,400 360,430 360,475 300,452 230,382 190,300 160,222 120,162 60,137 38,100 90,95 150,90Z" fill="#f5c2dc" filter="url(#b4)" />
<path d="M95,150 C130,168 160,200 180,238" fill="none" stroke="#fff" stroke-width="8" stroke-linecap="round" stroke-linejoin="round" filter="url(#b2)" opacity="0.95" />
<path d="M232,270 C245,300 255,330 262,345" fill="none" stroke="#fff" stroke-width="4" stroke-linecap="round" stroke-linejoin="round" filter="url(#b2)" opacity="0.8" />
<ellipse cx="95" cy="508" rx="38" ry="32" fill="#f5c2dc" filter="url(#b4)" transform="rotate(-30 95 508)"/>
<ellipse cx="45" cy="405" rx="14" ry="10" fill="#fff" filter="url(#b3)" opacity="0.9"/></g></g>
<g clip-path="url(#cB2)"><rect x="234.6" y="179" width="71.4" height="115.0" fill="#e8aed1"/><g transform="translate(232 176) scale(0.20942)"><ellipse cx="120" cy="170" rx="120" ry="85" fill="#cc66a2" filter="url(#b18)" opacity="0.3"/>
<ellipse cx="200" cy="520" rx="140" ry="60" fill="#cc66a2" filter="url(#b18)" opacity="0.15"/>
<rect x="0" y="0" width="800" height="600" fill="#fff" filter="url(#nzC)"/>
<rect x="0" y="0" width="800" height="600" fill="#fff" filter="url(#nzD)" opacity="0.8"/>
<rect x="0" y="0" width="800" height="600" fill="#fff" filter="url(#nzE)" opacity="0.6"/>
<path d="M228,0 365,0 365,275 300,270 272,235 290,180 300,140 270,90 245,45Z" fill="#f5c2dc" filter="url(#b5)" opacity="0.95" />
<path d="M238,15 C265,70 290,110 302,150" fill="none" stroke="#e79cc6" stroke-width="5" stroke-linecap="round" stroke-linejoin="round" filter="url(#b2)" opacity="0.8" />
<path d="M110,282 190,270 262,310 302,400 292,452 240,442 180,382 120,340Z" fill="#f8cde2" filter="url(#b4)" />
<path d="M112,285 C150,335 200,400 288,450" fill="none" stroke="#fdeaf3" stroke-width="6" stroke-linecap="round" stroke-linejoin="round" filter="url(#b3)" opacity="0.8" />
<path d="M20,40 C60,120 60,200 30,300" fill="none" stroke="#f4c0da" stroke-width="10" stroke-linecap="round" stroke-linejoin="round" filter="url(#b4)" opacity="0.7" /></g></g>
<g clip-path="url(#cB3)"><rect x="232" y="312" width="70.4" height="116.4" fill="#de80ba"/><g transform="translate(229 310) scale(0.20942)"><rect x="0" y="0" width="800" height="600" fill="#fff" filter="url(#nzC)" opacity="0.3"/>
<rect x="0" y="0" width="800" height="600" fill="#fff" filter="url(#nzD)" opacity="0.5"/>
<path d="M60,5 C100,100 130,150 200,262 S280,440 335,510" fill="none" stroke="#f6c6de" stroke-width="44" stroke-linecap="round" stroke-linejoin="round" filter="url(#b4)" />
<path d="M205,250 C225,300 250,370 275,420" fill="none" stroke="#fbe3ee" stroke-width="10" stroke-linecap="round" stroke-linejoin="round" filter="url(#b3)" opacity="0.9" />
<path d="M172,5 C195,50 205,80 212,115" fill="none" stroke="#f3b8d6" stroke-width="14" stroke-linecap="round" stroke-linejoin="round" filter="url(#b3)" />
<path d="M302,0 360,0 360,235 322,225 305,120Z" fill="#f6c6de" filter="url(#b4)" />
<ellipse cx="148" cy="498" rx="30" ry="48" fill="#f4bdd9" filter="url(#b4)" transform="rotate(-25 148 498)"/>
<path d="M222,60 C250,68 270,68 292,64 M240,242 C262,236 282,230 302,224 M28,346 C70,338 120,332 200,342 M108,440 C150,455 200,452 242,430" fill="none" stroke="#9c3a7c" stroke-width="3.5" stroke-linecap="round" stroke-linejoin="round" filter="url(#b1)" opacity="0.85" />
<path d="M40,150 C60,160 70,170 90,165 M60,300 C90,290 120,310 150,300 M30,470 C60,480 80,470 100,490" fill="none" stroke="#fbe6f0" stroke-width="6" stroke-linecap="round" stroke-linejoin="round" filter="url(#b3)" opacity="0.8" /></g></g>
<g clip-path="url(#cB4)"><rect x="234.6" y="445.6" width="71.4" height="115.4" fill="#d078b4"/><g transform="translate(232 443) scale(0.20942)"><rect x="0" y="0" width="800" height="600" fill="#fff" filter="url(#nzC)" opacity="0.45"/>
<rect x="0" y="0" width="800" height="600" fill="#fff" filter="url(#nzD)" opacity="0.7"/>
<rect x="0" y="0" width="800" height="600" fill="#fff" filter="url(#nzE)" opacity="0.75"/>
<path d="M5,112 C60,150 150,150 175,95 S170,30 150,5" fill="none" stroke="#fff" stroke-width="58" stroke-linecap="round" stroke-linejoin="round" filter="url(#b3)" opacity="0.75" />
<path d="M5,112 C60,150 150,150 175,95 S170,30 150,5" fill="none" stroke="#f4bbd7" stroke-width="44" stroke-linecap="round" stroke-linejoin="round" filter="url(#b3)" />
<path d="M360,205 C290,212 262,240 246,300 S215,380 195,400 C170,440 150,500 140,570 M195,400 C120,400 70,345 5,312" fill="none" stroke="#fff" stroke-width="62" stroke-linecap="round" stroke-linejoin="round" filter="url(#b3)" opacity="0.75" />
<path d="M360,205 C290,212 262,240 246,300 S215,380 195,400 C170,440 150,500 140,570 M195,400 C120,400 70,345 5,312" fill="none" stroke="#f4bbd7" stroke-width="50" stroke-linecap="round" stroke-linejoin="round" filter="url(#b3)" /></g></g>
<g clip-path="url(#cC1)"><rect x="314.5" y="45.6" width="170.8" height="114.4" fill="#f4f0ec"/><g transform="translate(312 44) scale(0.22166)"><path d="M8,240 240,230 330,320 360,540 8,540Z" fill="#f8f6f6" filter="url(#b12)" opacity="0.55" />
<path d="M8,0 180,0 200,240 8,250Z" fill="#f7f5f5" filter="url(#b12)" opacity="0.5" />
<path d="M360,300 700,280 730,540 380,540Z" fill="#f2ede7" filter="url(#b14)" opacity="0.7" />
<path d="M42,15 C40,100 60,165 130,190 S235,235 252,300 S300,430 352,530" fill="none" stroke="#fbfafa" stroke-width="9" stroke-linecap="round" stroke-linejoin="round" filter="url(#b4)" opacity="0.8" />
<path d="M215,300 C250,330 215,400 190,450" fill="none" stroke="#fbfafa" stroke-width="8" stroke-linecap="round" stroke-linejoin="round" filter="url(#b4)" opacity="0.7" />
<path d="M655,0 C740,60 768,180 758,300 S738,480 740,540 L800,540 L800,0Z" fill="#f9f7f6" filter="url(#b8)" opacity="0.8" />
<rect x="0" y="0" width="800" height="600" fill="#fff" filter="url(#nzT)" opacity="0.4"/>
<g fill="#d65a94" opacity="0.7" filter="url(#b1)"><circle cx="195" cy="188" r="1.7"/><circle cx="189" cy="174" r="3.3"/><circle cx="198" cy="158" r="2.2"/><circle cx="202" cy="145" r="3.5"/><circle cx="209" cy="130" r="3.5"/><circle cx="232" cy="123" r="3.0"/><circle cx="239" cy="114" r="2.0"/><circle cx="251" cy="108" r="3.0"/><circle cx="275" cy="115" r="3.3"/><circle cx="293" cy="106" r="2.6"/><circle cx="291" cy="114" r="3.3"/><circle cx="303" cy="115" r="2.8"/><circle cx="318" cy="110" r="3.4"/><circle cx="334" cy="126" r="2.1"/><circle cx="343" cy="130" r="3.4"/><circle cx="361" cy="130" r="3.2"/><circle cx="379" cy="144" r="2.6"/><circle cx="385" cy="147" r="3.1"/><circle cx="397" cy="157" r="2.5"/><circle cx="413" cy="169" r="3.5"/><circle cx="425" cy="186" r="2.3"/><circle cx="432" cy="195" r="3.2"/><circle cx="447" cy="194" r="3.3"/><circle cx="453" cy="209" r="2.6"/><circle cx="466" cy="185" r="2.5"/><circle cx="465" cy="172" r="2.8"/><circle cx="477" cy="153" r="2.6"/><circle cx="478" cy="137" r="2.8"/><circle cx="486" cy="122" r="2.6"/><circle cx="499" cy="104" r="2.1"/><circle cx="508" cy="94" r="2.8"/><circle cx="514" cy="96" r="2.3"/><circle cx="523" cy="85" r="2.3"/><circle cx="523" cy="71" r="3.2"/><circle cx="546" cy="76" r="3.1"/><circle cx="548" cy="70" r="2.0"/><circle cx="561" cy="58" r="2.2"/><circle cx="566" cy="54" r="3.4"/><circle cx="580" cy="62" r="2.7"/><circle cx="607" cy="67" r="2.5"/><circle cx="613" cy="71" r="2.6"/><circle cx="622" cy="86" r="2.4"/><circle cx="637" cy="94" r="2.7"/><circle cx="633" cy="94" r="3.3"/><circle cx="645" cy="118" r="2.5"/><circle cx="659" cy="123" r="2.9"/><circle cx="654" cy="136" r="2.8"/><circle cx="666" cy="148" r="2.2"/><circle cx="666" cy="161" r="2.2"/><circle cx="669" cy="178" r="2.8"/><circle cx="674" cy="184" r="3.5"/><circle cx="687" cy="208" r="3.0"/><circle cx="684" cy="221" r="1.9"/><circle cx="693" cy="233" r="2.6"/><circle cx="697" cy="251" r="2.7"/><circle cx="700" cy="256" r="2.8"/><circle cx="705" cy="267" r="2.7"/><circle cx="706" cy="289" r="3.1"/><circle cx="712" cy="309" r="3.6"/><circle cx="709" cy="319" r="2.3"/></g>
<g fill="#d65a94" opacity="0.6" filter="url(#b1)"><circle cx="56" cy="188" r="1.8"/><circle cx="91" cy="187" r="2.3"/><circle cx="105" cy="183" r="2.1"/><circle cx="132" cy="176" r="2.8"/><circle cx="140" cy="186" r="2.3"/><circle cx="333" cy="392" r="2.1"/><circle cx="344" cy="410" r="2.7"/><circle cx="343" cy="417" r="2.2"/><circle cx="480" cy="439" r="1.6"/><circle cx="19" cy="336" r="1.8"/><circle cx="607" cy="80" r="2.4"/></g></g></g>
<g clip-path="url(#cC2)"><rect x="314.5" y="180" width="170.7" height="114.8" fill="#f8f5f2"/><g transform="translate(312 177) scale(0.22166)"><path d="M150,0 770,0 772,200 722,300 700,540 380,540 330,350 262,200 160,120Z" fill="#f4ebea" filter="url(#b10)" opacity="0.95" />
<rect x="0" y="0" width="800" height="600" fill="#fff" filter="url(#nzT)" opacity="0.4"/>
<path d="M170,122 C250,72 350,52 420,112 S450,192 490,174 S530,72 565,40" fill="none" stroke="#eeb6cc" stroke-width="40" stroke-linecap="round" stroke-linejoin="round" filter="url(#b10)" opacity="0.32" />
<path d="M590,40 745,40 750,260 600,240Z" fill="#eec0d2" filter="url(#b14)" opacity="0.3" />
<g fill="#c24a88" opacity="0.85" filter="url(#b1)"><circle cx="173" cy="117" r="2.3"/><circle cx="182" cy="115" r="3.3"/><circle cx="197" cy="104" r="2.9"/><circle cx="199" cy="99" r="3.7"/><circle cx="203" cy="91" r="2.7"/><circle cx="213" cy="94" r="3.7"/><circle cx="234" cy="100" r="3.8"/><circle cx="242" cy="85" r="3.8"/><circle cx="245" cy="92" r="3.7"/><circle cx="252" cy="93" r="3.4"/><circle cx="256" cy="89" r="4.2"/><circle cx="278" cy="84" r="2.8"/><circle cx="290" cy="84" r="3.2"/><circle cx="286" cy="68" r="2.6"/><circle cx="303" cy="67" r="2.4"/><circle cx="319" cy="85" r="2.1"/><circle cx="316" cy="82" r="2.5"/><circle cx="324" cy="77" r="2.9"/><circle cx="347" cy="76" r="3.6"/><circle cx="341" cy="85" r="3.1"/><circle cx="361" cy="90" r="2.7"/><circle cx="375" cy="73" r="3.2"/><circle cx="366" cy="82" r="2.5"/><circle cx="367" cy="89" r="3.9"/><circle cx="382" cy="94" r="2.0"/><circle cx="397" cy="95" r="3.3"/><circle cx="400" cy="98" r="3.0"/><circle cx="405" cy="105" r="2.8"/><circle cx="413" cy="116" r="3.2"/><circle cx="433" cy="118" r="4.2"/><circle cx="429" cy="123" r="2.5"/><circle cx="442" cy="133" r="4.0"/><circle cx="454" cy="138" r="3.5"/><circle cx="455" cy="138" r="3.6"/><circle cx="461" cy="155" r="2.1"/><circle cx="462" cy="153" r="3.6"/><circle cx="474" cy="170" r="2.4"/><circle cx="460" cy="171" r="2.2"/><circle cx="471" cy="190" r="3.0"/><circle cx="469" cy="178" r="2.8"/><circle cx="489" cy="181" r="2.0"/><circle cx="492" cy="180" r="2.3"/><circle cx="504" cy="164" r="2.9"/><circle cx="496" cy="173" r="2.2"/><circle cx="503" cy="162" r="3.4"/><circle cx="521" cy="149" r="4.1"/><circle cx="515" cy="143" r="2.4"/><circle cx="512" cy="135" r="3.2"/><circle cx="521" cy="124" r="2.6"/><circle cx="528" cy="127" r="2.1"/><circle cx="530" cy="118" r="3.6"/><circle cx="540" cy="94" r="2.7"/><circle cx="547" cy="90" r="3.9"/><circle cx="548" cy="74" r="2.5"/><circle cx="552" cy="62" r="2.5"/><circle cx="546" cy="53" r="3.9"/><circle cx="553" cy="59" r="3.4"/><circle cx="558" cy="32" r="2.4"/></g>
<g fill="#c24a88" opacity="0.75" filter="url(#b1)"><circle cx="207" cy="87" r="3.5"/><circle cx="234" cy="95" r="2.0"/><circle cx="218" cy="89" r="3.0"/><circle cx="246" cy="109" r="2.3"/><circle cx="240" cy="88" r="2.9"/><circle cx="243" cy="111" r="2.5"/><circle cx="284" cy="102" r="2.1"/><circle cx="271" cy="103" r="2.6"/><circle cx="274" cy="90" r="2.4"/><circle cx="287" cy="87" r="2.5"/><circle cx="307" cy="100" r="2.2"/><circle cx="307" cy="81" r="2.8"/><circle cx="319" cy="75" r="3.1"/><circle cx="340" cy="89" r="3.3"/><circle cx="334" cy="81" r="3.0"/><circle cx="355" cy="73" r="2.1"/><circle cx="384" cy="75" r="2.5"/><circle cx="381" cy="66" r="2.9"/><circle cx="387" cy="82" r="2.3"/><circle cx="395" cy="70" r="3.3"/><circle cx="425" cy="67" r="2.5"/><circle cx="425" cy="76" r="2.2"/><circle cx="429" cy="62" r="2.1"/><circle cx="446" cy="95" r="3.0"/><circle cx="442" cy="94" r="2.2"/><circle cx="450" cy="105" r="2.2"/><circle cx="453" cy="110" r="3.3"/><circle cx="447" cy="117" r="2.9"/><circle cx="468" cy="120" r="2.5"/><circle cx="465" cy="135" r="2.0"/><circle cx="478" cy="152" r="3.4"/><circle cx="479" cy="148" r="1.9"/><circle cx="481" cy="128" r="3.4"/><circle cx="492" cy="142" r="2.0"/><circle cx="495" cy="112" r="2.6"/><circle cx="507" cy="118" r="2.9"/><circle cx="538" cy="99" r="1.7"/><circle cx="539" cy="83" r="2.2"/><circle cx="544" cy="90" r="2.7"/></g>
<g fill="#c24a88" opacity="0.75" filter="url(#b1)"><circle cx="630" cy="67" r="2.5"/><circle cx="654" cy="78" r="2.3"/><circle cx="605" cy="129" r="2.8"/><circle cx="733" cy="213" r="2.4"/><circle cx="710" cy="92" r="2.2"/><circle cx="676" cy="103" r="2.8"/><circle cx="621" cy="67" r="3.8"/><circle cx="627" cy="240" r="3.5"/><circle cx="719" cy="214" r="3.5"/><circle cx="715" cy="86" r="2.5"/><circle cx="641" cy="177" r="3.1"/><circle cx="705" cy="224" r="2.6"/><circle cx="727" cy="63" r="2.4"/><circle cx="686" cy="186" r="2.3"/><circle cx="671" cy="82" r="2.5"/><circle cx="666" cy="64" r="3.8"/><circle cx="735" cy="227" r="3.6"/><circle cx="677" cy="108" r="3.6"/><circle cx="731" cy="165" r="3.5"/><circle cx="727" cy="223" r="2.4"/><circle cx="671" cy="132" r="2.7"/><circle cx="685" cy="136" r="3.2"/><circle cx="619" cy="109" r="3.4"/><circle cx="717" cy="54" r="3.6"/><circle cx="602" cy="177" r="3.7"/><circle cx="637" cy="157" r="2.3"/><circle cx="666" cy="117" r="3.2"/><circle cx="745" cy="86" r="3.3"/><circle cx="657" cy="88" r="3.0"/><circle cx="690" cy="103" r="2.4"/><circle cx="648" cy="202" r="3.0"/><circle cx="643" cy="162" r="2.3"/><circle cx="731" cy="66" r="3.8"/><circle cx="604" cy="93" r="3.7"/></g>
<g fill="#d85e98" opacity="0.65" filter="url(#b1)"><circle cx="417" cy="149" r="2.8"/><circle cx="482" cy="181" r="3.0"/><circle cx="461" cy="178" r="3.1"/><circle cx="191" cy="104" r="3.3"/><circle cx="538" cy="134" r="3.0"/><circle cx="522" cy="48" r="3.3"/><circle cx="358" cy="69" r="1.9"/><circle cx="387" cy="122" r="2.5"/><circle cx="185" cy="65" r="3.3"/><circle cx="286" cy="177" r="2.8"/><circle cx="471" cy="56" r="3.2"/><circle cx="483" cy="52" r="2.0"/><circle cx="415" cy="50" r="2.6"/><circle cx="181" cy="169" r="2.2"/><circle cx="260" cy="64" r="2.7"/><circle cx="553" cy="170" r="2.7"/><circle cx="290" cy="184" r="1.8"/><circle cx="385" cy="138" r="2.2"/><circle cx="258" cy="181" r="2.3"/><circle cx="442" cy="185" r="3.2"/><circle cx="520" cy="78" r="3.0"/><circle cx="317" cy="57" r="2.1"/><circle cx="235" cy="40" r="3.1"/><circle cx="295" cy="126" r="2.0"/><circle cx="181" cy="138" r="2.8"/><circle cx="308" cy="80" r="2.0"/><circle cx="491" cy="107" r="1.8"/><circle cx="300" cy="107" r="3.2"/><circle cx="448" cy="39" r="2.1"/><circle cx="551" cy="34" r="2.2"/><circle cx="465" cy="165" r="3.4"/><circle cx="187" cy="156" r="3.2"/><circle cx="319" cy="123" r="2.3"/><circle cx="183" cy="37" r="3.3"/><circle cx="249" cy="183" r="2.7"/><circle cx="255" cy="151" r="2.9"/></g>
<g fill="#d87aa6" opacity="0.7" filter="url(#b1)"><circle cx="291" cy="204" r="2.5"/><circle cx="297" cy="216" r="2.9"/><circle cx="297" cy="226" r="3.2"/><circle cx="301" cy="231" r="3.0"/><circle cx="304" cy="241" r="2.5"/><circle cx="304" cy="252" r="2.8"/><circle cx="311" cy="265" r="3.2"/><circle cx="310" cy="274" r="1.6"/><circle cx="318" cy="285" r="1.8"/><circle cx="320" cy="293" r="1.5"/><circle cx="321" cy="301" r="3.2"/><circle cx="329" cy="317" r="2.5"/><circle cx="328" cy="320" r="3.1"/><circle cx="329" cy="329" r="2.8"/><circle cx="705" cy="433" r="1.7"/><circle cx="708" cy="445" r="3.2"/><circle cx="708" cy="453" r="1.5"/><circle cx="712" cy="456" r="3.2"/><circle cx="716" cy="468" r="3.2"/><circle cx="717" cy="479" r="2.8"/><circle cx="718" cy="482" r="2.9"/><circle cx="721" cy="487" r="2.3"/><circle cx="720" cy="499" r="2.9"/><circle cx="643" cy="284" r="2.9"/><circle cx="641" cy="291" r="2.6"/><circle cx="643" cy="297" r="3.0"/><circle cx="640" cy="299" r="1.5"/><circle cx="645" cy="315" r="2.5"/><circle cx="643" cy="318" r="2.9"/><circle cx="645" cy="326" r="1.8"/><circle cx="641" cy="337" r="1.6"/><circle cx="641" cy="342" r="1.5"/><circle cx="638" cy="354" r="1.9"/><circle cx="636" cy="359" r="3.0"/><circle cx="632" cy="369" r="1.9"/><circle cx="631" cy="380" r="2.3"/><circle cx="628" cy="385" r="2.3"/><circle cx="624" cy="389" r="3.0"/><circle cx="622" cy="397" r="2.8"/><circle cx="614" cy="404" r="2.4"/><circle cx="604" cy="413" r="2.0"/></g>
<g fill="#e39ab8" opacity="0.6" filter="url(#b1)"><circle cx="628" cy="471" r="2.9"/><circle cx="520" cy="286" r="3.0"/><circle cx="350" cy="419" r="2.5"/><circle cx="515" cy="451" r="2.1"/><circle cx="481" cy="454" r="1.8"/><circle cx="445" cy="465" r="2.7"/><circle cx="605" cy="337" r="2.5"/><circle cx="538" cy="425" r="2.9"/><circle cx="418" cy="383" r="2.3"/><circle cx="632" cy="288" r="2.9"/><circle cx="631" cy="426" r="2.2"/><circle cx="645" cy="311" r="3.0"/><circle cx="383" cy="464" r="2.8"/><circle cx="632" cy="347" r="2.4"/><circle cx="383" cy="265" r="2.6"/><circle cx="572" cy="296" r="2.8"/><circle cx="683" cy="394" r="2.0"/><circle cx="420" cy="416" r="2.6"/><circle cx="476" cy="508" r="3.0"/><circle cx="668" cy="370" r="2.1"/><circle cx="576" cy="430" r="3.0"/><circle cx="632" cy="522" r="2.8"/><circle cx="360" cy="319" r="3.0"/><circle cx="561" cy="300" r="2.3"/><circle cx="556" cy="230" r="1.9"/><circle cx="658" cy="373" r="3.0"/><circle cx="391" cy="419" r="3.0"/><circle cx="459" cy="265" r="2.4"/><circle cx="519" cy="246" r="1.9"/><circle cx="423" cy="486" r="2.0"/></g>
<g fill="#e8b4c6" opacity="0.5" filter="url(#b1)"><circle cx="90" cy="511" r="1.8"/><circle cx="59" cy="379" r="2.8"/><circle cx="46" cy="146" r="1.7"/><circle cx="330" cy="127" r="2.5"/><circle cx="219" cy="254" r="1.7"/><circle cx="160" cy="272" r="1.9"/><circle cx="80" cy="444" r="2.9"/><circle cx="48" cy="139" r="1.8"/><circle cx="26" cy="156" r="2.4"/><circle cx="146" cy="480" r="2.1"/><circle cx="138" cy="78" r="2.1"/><circle cx="100" cy="526" r="2.2"/><circle cx="40" cy="336" r="1.8"/><circle cx="137" cy="357" r="2.6"/><circle cx="125" cy="373" r="1.7"/><circle cx="174" cy="351" r="1.8"/><circle cx="299" cy="317" r="1.6"/><circle cx="64" cy="53" r="1.9"/><circle cx="313" cy="269" r="2.1"/><circle cx="80" cy="502" r="2.7"/><circle cx="199" cy="392" r="2.0"/><circle cx="293" cy="166" r="1.7"/></g>
<rect x="104" y="350" width="22" height="40" rx="6" fill="#e3b634" transform="rotate(-10 104 350)" filter="url(#b3)" opacity=".8"/>
<rect x="124" y="436" width="20" height="28" rx="6" fill="#e3b634" transform="rotate(10 124 436)" filter="url(#b3)" opacity=".8"/>
<rect x="18" y="455" width="34" height="13" rx="6" fill="#e3b634" transform="rotate(20 18 455)" filter="url(#b3)" opacity=".8"/>
<rect x="58" y="488" width="38" height="14" rx="6" fill="#e3b634" transform="rotate(25 58 488)" filter="url(#b3)" opacity=".8"/>
<rect x="32" y="508" width="18" height="12" rx="6" fill="#e3b634" transform="rotate(0 32 508)" filter="url(#b3)" opacity=".8"/>
<rect x="10" y="512" width="13" height="10" rx="6" fill="#e3b634" transform="rotate(0 10 512)" filter="url(#b3)" opacity=".8"/>
<rect x="80" y="470" width="12" height="10" rx="6" fill="#e3b634" transform="rotate(0 80 470)" filter="url(#b3)" opacity=".8"/></g></g>
<g clip-path="url(#cC3)"><rect x="314" y="312" width="174.0" height="116.2" fill="#f5f1f0"/><g transform="translate(312 310) scale(0.22166)"><path d="M0,0 200,0 230,200 330,400 400,540 0,540Z" fill="#f8f6f5" filter="url(#b10)" opacity="0.9" />
<rect x="0" y="0" width="800" height="600" fill="#fff" filter="url(#nzT)" opacity="0.4"/>
<path d="M220,142 C260,100 320,140 380,182 S440,262 470,270 C485,200 500,120 570,96 S660,150 692,225 S738,340 722,455" fill="none" stroke="#efb4cc" stroke-width="30" stroke-linecap="round" stroke-linejoin="round" filter="url(#b12)" opacity="0.18" />
<g fill="#cc3c82" opacity="0.9" filter="url(#b1)"><circle cx="219" cy="125" r="2.2"/><circle cx="248" cy="141" r="3.5"/><circle cx="256" cy="125" r="3.2"/><circle cx="246" cy="134" r="3.8"/><circle cx="281" cy="128" r="2.3"/><circle cx="290" cy="139" r="3.7"/><circle cx="305" cy="142" r="2.9"/><circle cx="315" cy="143" r="4.2"/><circle cx="333" cy="150" r="2.5"/><circle cx="338" cy="152" r="3.9"/><circle cx="354" cy="153" r="3.7"/><circle cx="365" cy="179" r="3.3"/><circle cx="372" cy="173" r="4.1"/><circle cx="395" cy="180" r="2.5"/><circle cx="395" cy="180" r="2.1"/><circle cx="390" cy="190" r="4.1"/><circle cx="424" cy="205" r="4.2"/><circle cx="428" cy="213" r="4.1"/><circle cx="413" cy="216" r="3.3"/><circle cx="433" cy="237" r="3.8"/><circle cx="442" cy="240" r="3.2"/><circle cx="443" cy="250" r="3.1"/><circle cx="459" cy="254" r="4.0"/><circle cx="459" cy="255" r="3.5"/><circle cx="455" cy="278" r="4.0"/><circle cx="479" cy="265" r="2.0"/><circle cx="475" cy="266" r="3.1"/><circle cx="487" cy="230" r="2.2"/><circle cx="490" cy="232" r="3.7"/><circle cx="486" cy="207" r="3.9"/><circle cx="495" cy="216" r="3.6"/><circle cx="490" cy="185" r="3.6"/><circle cx="486" cy="173" r="3.8"/><circle cx="492" cy="177" r="3.6"/><circle cx="504" cy="175" r="2.8"/><circle cx="491" cy="161" r="4.1"/><circle cx="511" cy="151" r="3.0"/><circle cx="511" cy="136" r="3.0"/><circle cx="525" cy="123" r="2.7"/><circle cx="535" cy="123" r="2.3"/><circle cx="541" cy="122" r="2.9"/><circle cx="537" cy="112" r="4.1"/><circle cx="551" cy="104" r="3.3"/><circle cx="568" cy="85" r="3.5"/><circle cx="586" cy="103" r="3.7"/><circle cx="600" cy="85" r="4.1"/><circle cx="604" cy="88" r="3.8"/><circle cx="617" cy="97" r="4.1"/><circle cx="629" cy="89" r="2.0"/><circle cx="639" cy="115" r="3.1"/><circle cx="641" cy="126" r="2.7"/><circle cx="635" cy="125" r="2.5"/><circle cx="656" cy="145" r="4.0"/><circle cx="661" cy="151" r="3.7"/><circle cx="668" cy="162" r="2.5"/><circle cx="683" cy="182" r="2.5"/><circle cx="679" cy="200" r="2.3"/><circle cx="673" cy="203" r="2.2"/><circle cx="687" cy="224" r="2.7"/><circle cx="684" cy="218" r="2.5"/><circle cx="685" cy="246" r="3.3"/><circle cx="699" cy="259" r="3.4"/><circle cx="701" cy="245" r="3.2"/><circle cx="700" cy="264" r="2.8"/><circle cx="714" cy="263" r="2.1"/><circle cx="720" cy="272" r="2.3"/><circle cx="720" cy="283" r="2.3"/><circle cx="710" cy="301" r="3.7"/><circle cx="715" cy="310" r="2.0"/><circle cx="725" cy="322" r="2.0"/><circle cx="735" cy="329" r="3.7"/><circle cx="718" cy="358" r="2.8"/><circle cx="727" cy="373" r="3.7"/><circle cx="733" cy="363" r="2.6"/><circle cx="718" cy="394" r="2.1"/><circle cx="716" cy="402" r="3.9"/><circle cx="719" cy="417" r="4.2"/><circle cx="736" cy="424" r="4.0"/><circle cx="720" cy="435" r="3.3"/><circle cx="712" cy="450" r="3.3"/></g>
<g fill="#d65a94" opacity="0.75" filter="url(#b1)"><circle cx="261" cy="168" r="2.8"/><circle cx="260" cy="182" r="2.8"/><circle cx="272" cy="199" r="2.4"/><circle cx="276" cy="218" r="2.2"/><circle cx="273" cy="226" r="2.2"/><circle cx="281" cy="244" r="3.2"/><circle cx="292" cy="264" r="3.1"/><circle cx="298" cy="265" r="1.9"/><circle cx="298" cy="286" r="1.9"/><circle cx="304" cy="298" r="2.7"/><circle cx="310" cy="316" r="2.9"/><circle cx="319" cy="319" r="1.8"/><circle cx="329" cy="336" r="1.6"/><circle cx="330" cy="350" r="2.3"/><circle cx="332" cy="354" r="2.2"/><circle cx="343" cy="373" r="3.2"/><circle cx="351" cy="386" r="2.6"/><circle cx="365" cy="401" r="1.9"/><circle cx="372" cy="416" r="2.7"/><circle cx="385" cy="423" r="2.8"/><circle cx="382" cy="430" r="2.3"/><circle cx="398" cy="444" r="2.7"/><circle cx="410" cy="455" r="1.7"/><circle cx="422" cy="468" r="2.8"/><circle cx="419" cy="477" r="2.1"/><circle cx="443" cy="495" r="3.1"/><circle cx="448" cy="503" r="3.1"/><circle cx="446" cy="503" r="2.3"/><circle cx="472" cy="526" r="3.2"/></g>
<g fill="#d65a94" opacity="0.75" filter="url(#b1)"><circle cx="699" cy="205" r="2.0"/><circle cx="704" cy="225" r="2.1"/><circle cx="707" cy="242" r="3.1"/><circle cx="712" cy="258" r="2.3"/><circle cx="712" cy="278" r="1.7"/><circle cx="717" cy="297" r="3.0"/><circle cx="720" cy="320" r="3.0"/><circle cx="730" cy="323" r="1.8"/><circle cx="726" cy="340" r="2.3"/><circle cx="737" cy="353" r="2.3"/><circle cx="734" cy="366" r="2.5"/><circle cx="735" cy="368" r="3.0"/><circle cx="729" cy="392" r="3.2"/><circle cx="740" cy="395" r="2.4"/><circle cx="739" cy="407" r="1.6"/><circle cx="734" cy="425" r="2.8"/><circle cx="738" cy="426" r="1.5"/><circle cx="740" cy="449" r="2.3"/><circle cx="730" cy="458" r="3.2"/><circle cx="729" cy="476" r="2.9"/><circle cx="728" cy="490" r="1.9"/><circle cx="730" cy="499" r="2.0"/><circle cx="734" cy="512" r="3.2"/><circle cx="724" cy="521" r="2.0"/><circle cx="724" cy="533" r="2.7"/></g>
<g fill="#d65a94" opacity="0.7" filter="url(#b1)"><circle cx="303" cy="129" r="1.7"/><circle cx="313" cy="136" r="3.1"/><circle cx="332" cy="141" r="3.0"/><circle cx="335" cy="153" r="2.3"/><circle cx="362" cy="181" r="1.7"/><circle cx="367" cy="189" r="2.8"/><circle cx="386" cy="206" r="1.8"/><circle cx="398" cy="206" r="2.9"/><circle cx="417" cy="222" r="3.0"/><circle cx="431" cy="229" r="2.8"/><circle cx="538" cy="70" r="3.2"/><circle cx="548" cy="100" r="2.0"/><circle cx="560" cy="104" r="2.9"/><circle cx="231" cy="29" r="2.0"/><circle cx="520" cy="31" r="2.0"/></g>
<g fill="#cc3c82" opacity="0.75" filter="url(#b1)"><circle cx="448" cy="168" r="2.9"/><circle cx="295" cy="272" r="2.8"/><circle cx="233" cy="196" r="2.3"/><circle cx="652" cy="107" r="3.7"/><circle cx="491" cy="219" r="2.1"/><circle cx="249" cy="170" r="3.0"/><circle cx="561" cy="185" r="3.7"/><circle cx="571" cy="123" r="2.2"/><circle cx="342" cy="113" r="3.1"/><circle cx="468" cy="284" r="3.2"/><circle cx="508" cy="253" r="2.2"/><circle cx="410" cy="247" r="2.8"/><circle cx="278" cy="151" r="3.4"/><circle cx="547" cy="242" r="2.9"/><circle cx="428" cy="108" r="3.4"/><circle cx="355" cy="134" r="2.4"/><circle cx="362" cy="260" r="2.5"/><circle cx="324" cy="276" r="2.3"/><circle cx="643" cy="102" r="3.0"/><circle cx="408" cy="193" r="3.8"/><circle cx="241" cy="179" r="3.2"/><circle cx="656" cy="114" r="3.5"/><circle cx="511" cy="115" r="2.8"/><circle cx="502" cy="278" r="3.4"/><circle cx="325" cy="92" r="2.3"/><circle cx="269" cy="203" r="2.6"/><circle cx="238" cy="108" r="3.3"/><circle cx="463" cy="283" r="3.4"/><circle cx="427" cy="174" r="2.9"/><circle cx="530" cy="110" r="2.3"/><circle cx="503" cy="126" r="2.6"/><circle cx="516" cy="291" r="2.5"/><circle cx="255" cy="207" r="2.6"/><circle cx="515" cy="121" r="3.6"/><circle cx="356" cy="299" r="2.5"/><circle cx="699" cy="115" r="3.7"/><circle cx="562" cy="290" r="3.7"/><circle cx="341" cy="218" r="2.2"/><circle cx="250" cy="167" r="2.8"/><circle cx="547" cy="214" r="3.0"/></g>
<g fill="#d65a94" opacity="0.6" filter="url(#b1)"><circle cx="573" cy="399" r="2.6"/><circle cx="575" cy="347" r="2.4"/><circle cx="667" cy="489" r="2.6"/><circle cx="605" cy="337" r="2.1"/><circle cx="553" cy="375" r="3.0"/><circle cx="447" cy="519" r="3.0"/><circle cx="739" cy="310" r="2.7"/><circle cx="685" cy="439" r="2.0"/><circle cx="499" cy="365" r="2.5"/><circle cx="613" cy="405" r="2.2"/><circle cx="617" cy="452" r="2.1"/><circle cx="402" cy="477" r="3.2"/><circle cx="733" cy="523" r="3.2"/><circle cx="589" cy="310" r="1.8"/><circle cx="352" cy="331" r="3.0"/><circle cx="717" cy="370" r="2.7"/><circle cx="493" cy="507" r="2.3"/><circle cx="473" cy="426" r="2.2"/></g>
<ellipse cx="648" cy="140" rx="9" ry="9" fill="#c03a80" filter="url(#b2)" opacity="0.8"/>
<path d="M555,166 L600,130 M470,442 L560,426 M500,500 L620,480 M540,250 L600,225" fill="none" stroke="#e6ac6c" stroke-width="4" stroke-linecap="round" stroke-linejoin="round" filter="url(#b1_5)" opacity="0.85" /></g></g>
<g clip-path="url(#cC4)"><rect x="314.5" y="448" width="171.0" height="117.5" fill="#f4f0ee"/><g transform="translate(312 446) scale(0.22166)"><path d="M250,60 700,55 742,200 722,400 700,540 420,540 330,350 250,200Z" fill="#ece8e5" filter="url(#b18)" opacity="0.95" />
<path d="M20,30 C60,150 180,200 232,250 S320,420 360,540" fill="none" stroke="#faf9f9" stroke-width="30" stroke-linecap="round" stroke-linejoin="round" filter="url(#b8)" opacity="0.7" />
<path d="M30,210 150,195 205,300 200,420 150,482 60,440 25,330Z" fill="#f2eee3" filter="url(#b8)" opacity="0.95" />
<path d="M745,0 800,0 800,540 715,540 730,400 755,250Z" fill="#f7f5f4" filter="url(#b10)" opacity="0.9" />
<path d="M612,200 640,200 642,300 610,300Z" fill="#fbfafa" filter="url(#b6)" opacity="0.8" />
<rect x="0" y="0" width="800" height="600" fill="#fff" filter="url(#nzT)" opacity="0.4"/>
<g fill="#d65a94" opacity="0.75" filter="url(#b1)"><circle cx="238" cy="166" r="2.0"/><circle cx="243" cy="157" r="1.7"/><circle cx="242" cy="141" r="2.3"/><circle cx="251" cy="130" r="2.8"/><circle cx="265" cy="124" r="3.0"/><circle cx="280" cy="128" r="3.2"/><circle cx="277" cy="110" r="2.5"/><circle cx="298" cy="121" r="2.8"/><circle cx="308" cy="120" r="2.2"/><circle cx="326" cy="108" r="3.2"/><circle cx="331" cy="117" r="1.7"/><circle cx="346" cy="118" r="2.9"/><circle cx="363" cy="125" r="2.8"/><circle cx="372" cy="132" r="3.4"/><circle cx="382" cy="125" r="2.1"/><circle cx="386" cy="132" r="2.0"/><circle cx="394" cy="141" r="2.9"/><circle cx="419" cy="154" r="2.3"/><circle cx="419" cy="156" r="2.1"/><circle cx="427" cy="162" r="3.1"/><circle cx="437" cy="177" r="2.2"/><circle cx="454" cy="186" r="2.5"/><circle cx="472" cy="190" r="3.2"/><circle cx="473" cy="191" r="3.4"/><circle cx="477" cy="178" r="2.5"/><circle cx="488" cy="175" r="2.6"/><circle cx="496" cy="164" r="1.8"/><circle cx="491" cy="155" r="2.2"/><circle cx="496" cy="140" r="3.1"/><circle cx="502" cy="128" r="1.9"/><circle cx="515" cy="125" r="3.5"/><circle cx="508" cy="106" r="3.2"/><circle cx="522" cy="96" r="2.3"/><circle cx="523" cy="95" r="1.9"/><circle cx="536" cy="82" r="2.8"/><circle cx="538" cy="79" r="2.2"/><circle cx="561" cy="64" r="2.1"/><circle cx="563" cy="64" r="2.2"/><circle cx="573" cy="62" r="2.2"/><circle cx="589" cy="67" r="2.1"/><circle cx="607" cy="56" r="1.8"/><circle cx="603" cy="57" r="2.0"/><circle cx="625" cy="56" r="2.3"/><circle cx="641" cy="70" r="3.3"/><circle cx="641" cy="79" r="3.4"/><circle cx="657" cy="80" r="2.9"/><circle cx="658" cy="97" r="3.0"/><circle cx="668" cy="101" r="2.2"/><circle cx="675" cy="111" r="2.6"/><circle cx="675" cy="117" r="2.4"/><circle cx="695" cy="135" r="3.0"/><circle cx="694" cy="147" r="2.5"/><circle cx="705" cy="157" r="2.3"/><circle cx="697" cy="163" r="2.2"/><circle cx="705" cy="176" r="3.0"/><circle cx="710" cy="180" r="3.2"/><circle cx="711" cy="184" r="2.8"/><circle cx="716" cy="198" r="2.7"/><circle cx="720" cy="219" r="3.4"/><circle cx="724" cy="220" r="2.3"/></g>
<g fill="#d65a94" opacity="0.4" filter="url(#b1)"><circle cx="171" cy="167" r="1.2"/><circle cx="191" cy="159" r="1.2"/><circle cx="210" cy="158" r="2.0"/><circle cx="310" cy="100" r="2.6"/><circle cx="344" cy="84" r="2.1"/><circle cx="357" cy="77" r="2.2"/><circle cx="387" cy="76" r="1.3"/></g></g></g>
<g clip-path="url(#cD1)"><rect x="490" y="45.6" width="72.0" height="114.4" fill="#f8f4ef"/><g transform="translate(488 43) scale(0.20942)"><rect x="0" y="0" width="800" height="600" fill="#fff" filter="url(#nzU)" opacity="0.55"/>
<path d="M20,130 C80,160 120,200 160,260" fill="none" stroke="#fbfafa" stroke-width="18" stroke-linecap="round" stroke-linejoin="round" filter="url(#b6)" opacity="0.7" />
<g fill="#c2407f" opacity="0.85" filter="url(#b2)"><circle cx="70" cy="75" r="3.8"/><circle cx="105" cy="65" r="4.6"/><circle cx="175" cy="50" r="4.1"/><circle cx="262" cy="58" r="4.8"/><circle cx="293" cy="90" r="4.8"/><circle cx="297" cy="120" r="3.3"/><circle cx="165" cy="150" r="3.2"/><circle cx="188" cy="170" r="5.4"/><circle cx="185" cy="205" r="3.9"/><circle cx="345" cy="212" r="3.8"/><circle cx="145" cy="265" r="5.8"/><circle cx="245" cy="300" r="4.4"/><circle cx="130" cy="50" r="5.4"/><circle cx="150" cy="70" r="4.4"/><circle cx="230" cy="20" r="4.9"/></g>
<g fill="#e79ab8" opacity="0.5" filter="url(#b2)"><circle cx="174" cy="202" r="3.0"/><circle cx="238" cy="56" r="3.3"/><circle cx="19" cy="122" r="3.3"/><circle cx="107" cy="246" r="2.4"/><circle cx="246" cy="186" r="2.1"/><circle cx="202" cy="203" r="2.8"/><circle cx="64" cy="140" r="2.6"/><circle cx="69" cy="273" r="3.6"/><circle cx="35" cy="248" r="3.3"/><circle cx="40" cy="211" r="3.2"/><circle cx="128" cy="130" r="3.1"/><circle cx="297" cy="20" r="3.3"/><circle cx="35" cy="276" r="2.4"/><circle cx="185" cy="41" r="2.9"/><circle cx="346" cy="285" r="2.4"/><circle cx="53" cy="136" r="3.7"/><circle cx="60" cy="104" r="2.2"/><circle cx="223" cy="62" r="3.6"/><circle cx="248" cy="30" r="2.2"/><circle cx="72" cy="247" r="3.3"/><circle cx="149" cy="134" r="2.7"/><circle cx="215" cy="151" r="2.8"/><circle cx="144" cy="24" r="3.6"/><circle cx="258" cy="291" r="2.1"/><circle cx="342" cy="204" r="2.2"/></g>
<g fill="#ecc0cc" opacity="0.4" filter="url(#b2)"><circle cx="102" cy="478" r="2.6"/><circle cx="244" cy="521" r="3.3"/><circle cx="77" cy="360" r="3.3"/><circle cx="64" cy="359" r="3.6"/><circle cx="261" cy="334" r="2.4"/><circle cx="193" cy="356" r="2.5"/><circle cx="114" cy="412" r="2.4"/><circle cx="296" cy="458" r="2.5"/><circle cx="20" cy="372" r="3.4"/><circle cx="64" cy="527" r="2.3"/><circle cx="286" cy="510" r="3.1"/><circle cx="292" cy="494" r="2.5"/><circle cx="333" cy="506" r="2.6"/><circle cx="101" cy="521" r="2.9"/></g></g></g>
<g clip-path="url(#cD2)"><rect x="490" y="180" width="72.0" height="114.8" fill="#f8f2ef"/><g transform="translate(488 177) scale(0.20942)"><rect x="0" y="0" width="800" height="600" fill="#fff" filter="url(#nzU)" opacity="0.55"/>
<g fill="#e3a2bd" opacity="0.5" filter="url(#b2)"><circle cx="68" cy="391" r="2.6"/><circle cx="229" cy="276" r="3.6"/><circle cx="86" cy="447" r="3.5"/><circle cx="287" cy="294" r="3.2"/><circle cx="184" cy="143" r="2.7"/><circle cx="13" cy="217" r="3.8"/><circle cx="212" cy="52" r="3.8"/><circle cx="283" cy="141" r="3.2"/><circle cx="91" cy="37" r="3.2"/><circle cx="352" cy="417" r="2.7"/><circle cx="310" cy="350" r="2.2"/><circle cx="24" cy="194" r="3.0"/><circle cx="182" cy="77" r="3.4"/><circle cx="337" cy="215" r="2.4"/><circle cx="65" cy="460" r="3.8"/><circle cx="55" cy="521" r="2.7"/><circle cx="167" cy="315" r="2.7"/><circle cx="129" cy="279" r="2.3"/><circle cx="76" cy="34" r="4.2"/><circle cx="307" cy="142" r="3.7"/><circle cx="278" cy="128" r="3.9"/><circle cx="342" cy="502" r="3.4"/><circle cx="269" cy="430" r="2.3"/><circle cx="210" cy="412" r="2.9"/><circle cx="54" cy="274" r="3.2"/><circle cx="294" cy="124" r="2.5"/><circle cx="327" cy="499" r="4.1"/><circle cx="152" cy="213" r="2.9"/><circle cx="166" cy="225" r="2.5"/><circle cx="351" cy="225" r="3.8"/><circle cx="21" cy="65" r="2.5"/><circle cx="257" cy="556" r="4.0"/><circle cx="181" cy="282" r="3.1"/><circle cx="200" cy="423" r="3.3"/><circle cx="88" cy="346" r="2.9"/><circle cx="202" cy="354" r="3.2"/><circle cx="74" cy="107" r="2.6"/><circle cx="131" cy="520" r="2.3"/><circle cx="130" cy="340" r="3.9"/><circle cx="117" cy="70" r="2.7"/><circle cx="34" cy="458" r="3.7"/><circle cx="277" cy="219" r="2.6"/><circle cx="245" cy="383" r="4.1"/><circle cx="318" cy="537" r="4.0"/><circle cx="151" cy="554" r="3.7"/><circle cx="340" cy="336" r="3.7"/><circle cx="313" cy="282" r="3.4"/><circle cx="140" cy="149" r="3.6"/><circle cx="311" cy="103" r="2.5"/><circle cx="36" cy="454" r="3.2"/><circle cx="276" cy="278" r="3.8"/><circle cx="297" cy="42" r="2.6"/><circle cx="100" cy="172" r="4.0"/><circle cx="155" cy="107" r="3.9"/><circle cx="36" cy="199" r="3.0"/><circle cx="319" cy="551" r="2.9"/><circle cx="266" cy="276" r="3.1"/><circle cx="98" cy="538" r="3.0"/><circle cx="191" cy="412" r="4.2"/><circle cx="22" cy="130" r="3.0"/><circle cx="298" cy="448" r="2.3"/><circle cx="313" cy="342" r="2.4"/><circle cx="157" cy="331" r="3.6"/><circle cx="302" cy="182" r="4.1"/><circle cx="194" cy="165" r="3.2"/><circle cx="274" cy="20" r="3.2"/><circle cx="246" cy="535" r="3.3"/><circle cx="20" cy="338" r="3.7"/><circle cx="232" cy="479" r="2.7"/><circle cx="211" cy="154" r="3.4"/><circle cx="150" cy="537" r="3.3"/><circle cx="321" cy="87" r="3.4"/><circle cx="44" cy="65" r="2.6"/><circle cx="21" cy="258" r="2.6"/><circle cx="60" cy="488" r="2.9"/><circle cx="235" cy="83" r="4.0"/><circle cx="196" cy="191" r="2.9"/><circle cx="180" cy="134" r="3.4"/><circle cx="69" cy="114" r="2.8"/><circle cx="141" cy="402" r="2.4"/><circle cx="200" cy="39" r="2.4"/><circle cx="254" cy="491" r="3.8"/><circle cx="276" cy="446" r="3.7"/><circle cx="15" cy="267" r="3.0"/><circle cx="34" cy="431" r="3.6"/><circle cx="72" cy="402" r="3.5"/><circle cx="98" cy="394" r="4.0"/><circle cx="119" cy="37" r="4.1"/><circle cx="145" cy="183" r="3.0"/><circle cx="319" cy="175" r="4.1"/><circle cx="184" cy="314" r="4.1"/><circle cx="335" cy="68" r="3.4"/><circle cx="217" cy="291" r="3.9"/><circle cx="262" cy="542" r="3.2"/><circle cx="118" cy="396" r="3.0"/><circle cx="191" cy="320" r="2.7"/><circle cx="34" cy="459" r="3.9"/><circle cx="345" cy="208" r="2.6"/><circle cx="120" cy="556" r="2.4"/><circle cx="49" cy="56" r="3.8"/><circle cx="37" cy="459" r="3.7"/><circle cx="271" cy="259" r="3.2"/><circle cx="224" cy="25" r="3.8"/><circle cx="232" cy="256" r="2.3"/><circle cx="188" cy="227" r="2.7"/><circle cx="149" cy="137" r="2.8"/><circle cx="29" cy="251" r="3.0"/><circle cx="96" cy="398" r="2.6"/><circle cx="291" cy="409" r="2.4"/><circle cx="167" cy="143" r="2.9"/><circle cx="143" cy="280" r="4.0"/><circle cx="227" cy="540" r="4.1"/><circle cx="41" cy="276" r="3.7"/><circle cx="180" cy="406" r="3.2"/><circle cx="316" cy="440" r="2.7"/><circle cx="226" cy="428" r="4.1"/><circle cx="240" cy="483" r="3.2"/><circle cx="250" cy="387" r="3.6"/><circle cx="96" cy="515" r="2.3"/><circle cx="144" cy="350" r="2.6"/><circle cx="293" cy="540" r="3.8"/><circle cx="349" cy="17" r="3.8"/><circle cx="119" cy="184" r="3.9"/><circle cx="145" cy="93" r="3.4"/><circle cx="201" cy="57" r="3.1"/><circle cx="115" cy="529" r="3.4"/><circle cx="265" cy="266" r="3.9"/><circle cx="49" cy="536" r="2.8"/><circle cx="252" cy="126" r="3.3"/><circle cx="126" cy="364" r="2.8"/><circle cx="244" cy="156" r="3.7"/><circle cx="336" cy="190" r="2.3"/><circle cx="99" cy="476" r="3.6"/><circle cx="64" cy="386" r="4.1"/><circle cx="80" cy="340" r="2.3"/><circle cx="107" cy="221" r="3.4"/><circle cx="333" cy="269" r="3.5"/><circle cx="161" cy="351" r="3.9"/><circle cx="108" cy="109" r="3.4"/><circle cx="143" cy="163" r="2.7"/><circle cx="76" cy="539" r="3.0"/><circle cx="24" cy="456" r="4.1"/><circle cx="331" cy="399" r="4.0"/><circle cx="18" cy="288" r="2.5"/><circle cx="25" cy="346" r="2.4"/><circle cx="251" cy="145" r="2.4"/><circle cx="15" cy="311" r="2.3"/><circle cx="44" cy="183" r="3.1"/><circle cx="167" cy="502" r="2.5"/><circle cx="138" cy="88" r="3.9"/><circle cx="282" cy="463" r="3.5"/><circle cx="193" cy="41" r="2.5"/><circle cx="76" cy="234" r="3.3"/><circle cx="200" cy="137" r="2.9"/><circle cx="286" cy="475" r="3.2"/><circle cx="327" cy="496" r="2.7"/><circle cx="18" cy="332" r="2.6"/><circle cx="39" cy="505" r="2.6"/><circle cx="267" cy="429" r="3.0"/><circle cx="76" cy="47" r="3.6"/><circle cx="290" cy="345" r="3.3"/><circle cx="224" cy="271" r="2.3"/><circle cx="285" cy="199" r="3.6"/><circle cx="104" cy="207" r="3.9"/><circle cx="114" cy="356" r="3.7"/><circle cx="316" cy="53" r="3.8"/><circle cx="35" cy="293" r="2.3"/><circle cx="243" cy="118" r="3.1"/><circle cx="104" cy="46" r="2.4"/><circle cx="25" cy="284" r="3.7"/></g>
<path d="M150,10 360,10 360,280 290,260 220,160Z" fill="#ecaac6" filter="url(#b20)" opacity="0.25" />
<path d="M120,295 200,285 255,335 262,425 200,415 135,350Z" fill="#fbf9f8" filter="url(#b14)" opacity="0.65" />
<ellipse cx="165" cy="35" rx="11" ry="7.15" fill="#9c2468" filter="url(#b3)" opacity="0.85" transform="rotate(20 165 35)"/>
<ellipse cx="235" cy="65" rx="7" ry="4.55" fill="#9c2468" filter="url(#b3)" opacity="0.85"/>
<ellipse cx="275" cy="115" rx="13" ry="8.450000000000001" fill="#9c2468" filter="url(#b3)" opacity="0.85" transform="rotate(40 275 115)"/>
<ellipse cx="335" cy="185" rx="9" ry="5.8500000000000005" fill="#9c2468" filter="url(#b3)" opacity="0.85"/>
<ellipse cx="315" cy="240" rx="12" ry="7.800000000000001" fill="#9c2468" filter="url(#b3)" opacity="0.85" transform="rotate(-30 315 240)"/>
<ellipse cx="110" cy="238" rx="7" ry="4.55" fill="#9c2468" filter="url(#b3)" opacity="0.85"/>
<ellipse cx="68" cy="85" rx="5" ry="3.25" fill="#9c2468" filter="url(#b3)" opacity="0.85"/>
<ellipse cx="255" cy="200" rx="7" ry="4.55" fill="#9c2468" filter="url(#b3)" opacity="0.85"/>
<ellipse cx="220" cy="175" rx="5" ry="3.25" fill="#9c2468" filter="url(#b3)" opacity="0.85"/>
<ellipse cx="250" cy="425" rx="8" ry="5.2" fill="#9c2468" filter="url(#b3)" opacity="0.85" transform="rotate(30 250 425)"/>
<ellipse cx="160" cy="550" rx="7" ry="4.55" fill="#9c2468" filter="url(#b3)" opacity="0.85"/>
<ellipse cx="305" cy="60" rx="5" ry="3.25" fill="#9c2468" filter="url(#b3)" opacity="0.85"/>
<ellipse cx="70" cy="30" rx="5" ry="3.25" fill="#9c2468" filter="url(#b3)" opacity="0.85"/>
<ellipse cx="205" cy="110" rx="5" ry="3.25" fill="#9c2468" filter="url(#b3)" opacity="0.85"/>
<ellipse cx="290" cy="140" rx="6" ry="3.9000000000000004" fill="#9c2468" filter="url(#b3)" opacity="0.85"/>
<ellipse cx="330" cy="120" rx="5" ry="3.25" fill="#9c2468" filter="url(#b3)" opacity="0.85"/>
<g fill="#b5357a" opacity="0.8" filter="url(#b1)"><circle cx="78" cy="271" r="3.8"/><circle cx="83" cy="271" r="3.0"/><circle cx="85" cy="280" r="4.1"/><circle cx="89" cy="286" r="3.3"/><circle cx="92" cy="292" r="5.0"/><circle cx="100" cy="298" r="4.1"/><circle cx="105" cy="306" r="3.0"/><circle cx="110" cy="314" r="3.3"/><circle cx="120" cy="324" r="5.0"/><circle cx="133" cy="329" r="3.6"/><circle cx="136" cy="334" r="2.6"/><circle cx="149" cy="344" r="3.9"/><circle cx="151" cy="349" r="4.7"/><circle cx="161" cy="354" r="2.5"/><circle cx="166" cy="354" r="3.9"/><circle cx="170" cy="361" r="3.6"/><circle cx="175" cy="367" r="3.8"/><circle cx="178" cy="371" r="3.5"/><circle cx="182" cy="380" r="3.1"/><circle cx="183" cy="388" r="4.6"/><circle cx="183" cy="399" r="3.5"/><circle cx="190" cy="405" r="5.2"/><circle cx="190" cy="410" r="4.3"/><circle cx="192" cy="422" r="4.1"/><circle cx="200" cy="424" r="5.0"/></g></g></g>
<g clip-path="url(#cD3)"><rect x="494" y="312" width="67.8" height="116.5" fill="#f7f3ee"/><g transform="translate(488 310) scale(0.20942)"><rect x="0" y="0" width="800" height="600" fill="#fff" filter="url(#nzU)" opacity="0.45"/>
<path d="M110,5 C170,120 230,250 250,330 S290,500 300,570" fill="none" stroke="#fdfcfc" stroke-width="30" stroke-linecap="round" stroke-linejoin="round" filter="url(#b7)" opacity="0.9" />
<path d="M35,135 C60,128 78,118 92,104 M215,205 C250,214 285,200 312,170 M35,400 C100,405 165,380 200,336 M120,265 L160,255" fill="none" stroke="#e2bd80" stroke-width="7" stroke-linecap="round" stroke-linejoin="round" filter="url(#b2)" opacity="0.9" />
<g fill="#c93c88" opacity="0.85" filter="url(#b1)"><circle cx="43" cy="50" r="2.6"/><circle cx="49" cy="50" r="3.0"/><circle cx="56" cy="61" r="3.3"/><circle cx="68" cy="53" r="2.3"/></g>
<g fill="#c93c88" opacity="0.85" filter="url(#b1)"><circle cx="158" cy="34" r="2.3"/><circle cx="158" cy="45" r="2.4"/><circle cx="161" cy="51" r="3.2"/><circle cx="161" cy="61" r="3.1"/><circle cx="170" cy="71" r="2.2"/><circle cx="174" cy="89" r="3.6"/><circle cx="179" cy="108" r="3.0"/><circle cx="186" cy="118" r="2.3"/></g>
<g fill="#c93c88" opacity="0.85" filter="url(#b1)"><circle cx="104" cy="114" r="2.3"/><circle cx="106" cy="124" r="2.4"/><circle cx="110" cy="129" r="3.2"/><circle cx="110" cy="139" r="3.1"/><circle cx="122" cy="148" r="2.2"/></g>
<g fill="#c93c88" opacity="0.85" filter="url(#b1)"><circle cx="138" cy="195" r="4.5"/><circle cx="143" cy="201" r="4.0"/><circle cx="148" cy="213" r="4.0"/><circle cx="157" cy="225" r="2.4"/></g>
<g fill="#c93c88" opacity="0.85" filter="url(#b1)"><circle cx="342" cy="205" r="4.5"/><circle cx="336" cy="212" r="4.0"/><circle cx="331" cy="223" r="4.0"/><circle cx="325" cy="235" r="2.4"/><circle cx="318" cy="244" r="3.2"/><circle cx="312" cy="247" r="4.0"/></g>
<g fill="#c93c88" opacity="0.85" filter="url(#b1)"><circle cx="218" cy="335" r="4.5"/><circle cx="221" cy="342" r="4.0"/><circle cx="226" cy="354" r="4.0"/><circle cx="234" cy="367" r="2.4"/><circle cx="242" cy="376" r="3.2"/><circle cx="247" cy="380" r="4.0"/><circle cx="250" cy="396" r="2.8"/><circle cx="259" cy="412" r="4.4"/></g>
<g fill="#c93c88" opacity="0.85" filter="url(#b1)"><circle cx="103" cy="474" r="2.3"/><circle cx="104" cy="485" r="2.4"/><circle cx="107" cy="491" r="3.2"/><circle cx="107" cy="501" r="3.1"/><circle cx="117" cy="510" r="2.2"/></g>
<g fill="#c93c88" opacity="0.85" filter="url(#b1)"><circle cx="282" cy="515" r="4.5"/><circle cx="289" cy="511" r="4.0"/><circle cx="297" cy="513" r="4.0"/></g></g></g>
<g clip-path="url(#cD4)"><rect x="493" y="448" width="68.8" height="120.0" fill="#efebe6"/><g transform="translate(488 446) scale(0.21640)"><rect x="0" y="0" width="800" height="600" fill="#fff" filter="url(#nzU)" opacity="0.7"/>
<path d="M270,0 360,0 360,600 290,600 270,300Z" fill="#f7f5f4" filter="url(#b12)" opacity="0.9" />
<path d="M0,0 45,0 40,600 0,600Z" fill="#f7f5f4" filter="url(#b10)" opacity="0.8" />
<path d="M225,100 C225,180 215,230 200,290" fill="none" stroke="#fbfafa" stroke-width="30" stroke-linecap="round" stroke-linejoin="round" filter="url(#b8)" opacity="0.85" />
<path d="M105,300 240,285 252,400 200,455 120,430Z" fill="#fbfafa" filter="url(#b12)" opacity="0.9" />
<g fill="#c04a84" opacity="0.45" filter="url(#b2)"><circle cx="45" cy="265" r="3.8"/><circle cx="240" cy="295" r="4.0"/><circle cx="40" cy="440" r="4.1"/><circle cx="175" cy="435" r="4.4"/><circle cx="335" cy="355" r="4.0"/><circle cx="330" cy="70" r="4.4"/><circle cx="160" cy="90" r="2.5"/></g></g></g>
<rect x="177.3" y="63.5" width="21.9" height="38.3" fill="none" stroke="#1c0a1c" stroke-width="1.5"/>
<rect x="180.5" y="189.7" width="21.2" height="38.3" fill="none" stroke="#1c0a1c" stroke-width="1.5"/>
<rect x="169.2" y="357.5" width="21.4" height="37.5" fill="none" stroke="#1c0a1c" stroke-width="1.5"/>
<rect x="180.3" y="477.4" width="21.4" height="38.2" fill="none" stroke="#1c0a1c" stroke-width="1.5"/>
<rect x="427.2" y="63.5" width="21.8" height="38.3" fill="none" stroke="#1c0a1c" stroke-width="1.5"/>
<rect x="441.6" y="188.2" width="21.6" height="38.0" fill="none" stroke="#1c0a1c" stroke-width="1.5"/>
<rect x="434" y="356.2" width="21.7" height="37.8" fill="none" stroke="#1c0a1c" stroke-width="1.5"/>
<rect x="442.3" y="479" width="21.7" height="38.0" fill="none" stroke="#1c0a1c" stroke-width="1.5"/>
<path d="M615.1 17.0V133.7H781.3" fill="none" stroke="#3a3a3a" stroke-width="0.95"/>
<text class="t" x="608.5" y="136.70">0</text>
<text class="t" x="608.5" y="107.65">5</text>
<text class="t" x="608.5" y="78.60">10</text>
<text class="t" x="608.5" y="49.55">15</text>
<text class="t" x="608.5" y="20.50">20</text>
<path d="M611.9 133.70H615.1M611.9 104.65H615.1M611.9 75.60H615.1M611.9 46.55H615.1M611.9 17.50H615.1M615.10 133.7V136.89999999999998M656.65 133.7V136.89999999999998M698.20 133.7V136.89999999999998M739.75 133.7V136.89999999999998M781.30 133.7V136.89999999999998" stroke="#3a3a3a" stroke-width="0.95" fill="none"/>
<rect x="627.8" y="46.8" width="16.20" height="86.90" fill="#030303"/>
<path d="M635.9 46.8V37.2M633.9 37.2H637.9" stroke="#151515" stroke-width="1" fill="none"/>
<rect x="669.4" y="114.1" width="16.10" height="19.60" fill="#030303"/>
<path d="M677.45 114.1V107.2M675.45 107.2H679.45" stroke="#151515" stroke-width="1" fill="none"/>
<rect x="711" y="81.2" width="16.20" height="52.50" fill="#030303"/>
<path d="M719.1 81.2V70M717.1 70H721.1" stroke="#151515" stroke-width="1" fill="none"/>
<rect x="752.2" y="78.7" width="16.20" height="55.00" fill="#030303"/>
<path d="M760.3 78.7V61.8M758.3 61.8H762.3" stroke="#151515" stroke-width="1" fill="none"/>
<text class="st" x="720.1" y="64.4">*</text>
<text class="st" x="761.6999999999999" y="55.9">*</text>
<text class="yl" font-size="11.6" transform="translate(592 75.7) rotate(-90)">BV/TV (%)</text>
<text class="x" x="639.2" y="146.6">Sham</text>
<text class="x" x="677.6" y="146.6">OVX</text>
<text class="x" x="721.5" y="146.6">Fan</text>
<text class="x" style="font-size:8.6px" x="724" y="158">(1mg/kg)</text>
<text class="x" x="762.5" y="146.6">Fan</text>
<text class="x" style="font-size:8.6px" x="766.1" y="158">(5mg/kg)</text>
<path d="M615.1 191.1V306.1H780.3" fill="none" stroke="#3a3a3a" stroke-width="0.95"/>
<text class="t" x="608.5" y="309.10">0</text>
<text class="t" x="608.5" y="290.02">2</text>
<text class="t" x="608.5" y="270.93">4</text>
<text class="t" x="608.5" y="251.85">6</text>
<text class="t" x="608.5" y="232.77">8</text>
<text class="t" x="608.5" y="213.68">10</text>
<text class="t" x="608.5" y="194.60">12</text>
<path d="M611.9 306.10H615.1M611.9 287.02H615.1M611.9 267.93H615.1M611.9 248.85H615.1M611.9 229.77H615.1M611.9 210.68H615.1M611.9 191.60H615.1M615.10 306.1V309.3M656.40 306.1V309.3M697.70 306.1V309.3M739.00 306.1V309.3M780.30 306.1V309.3" stroke="#3a3a3a" stroke-width="0.95" fill="none"/>
<rect x="627.6" y="287.6" width="16.40" height="18.50" fill="#030303"/>
<path d="M635.8 287.6V282.4M633.8 282.4H637.8" stroke="#151515" stroke-width="1" fill="none"/>
<rect x="668.9" y="221.7" width="16.40" height="84.40" fill="#030303"/>
<path d="M677.0999999999999 221.7V196.2M675.0999999999999 196.2H679.0999999999999" stroke="#151515" stroke-width="1" fill="none"/>
<rect x="710.4" y="245" width="16.20" height="61.10" fill="#030303"/>
<path d="M718.5 245V229.3M716.5 229.3H720.5" stroke="#151515" stroke-width="1" fill="none"/>
<rect x="750.7" y="281" width="16.40" height="25.10" fill="#030303"/>
<path d="M758.9000000000001 281V273M756.9000000000001 273H760.9000000000001" stroke="#151515" stroke-width="1" fill="none"/>
<text class="st" x="759.6999999999999" y="268.9">*</text>
<text class="yl" font-size="11.1" transform="translate(593 257) rotate(-90)">N.Oc/B.Pm (/mm)</text>
<text class="x" x="636.6" y="320.7">Sham</text>
<text class="x" x="677.6" y="320.7">OVX</text>
<text class="x" x="719.5" y="320.7">Fan</text>
<text class="x" style="font-size:8.6px" x="721.5" y="332">(1mg/kg)</text>
<text class="x" x="760.3" y="320.7">Fan</text>
<text class="x" style="font-size:8.6px" x="763.9" y="332">(5mg/kg)</text>
<path d="M616.8 369.3V505.7H790" fill="none" stroke="#3a3a3a" stroke-width="0.95"/>
<text class="t" x="610.1999999999999" y="508.70">0</text>
<text class="t" x="610.1999999999999" y="489.29">2</text>
<text class="t" x="610.1999999999999" y="469.87">4</text>
<text class="t" x="610.1999999999999" y="450.46">6</text>
<text class="t" x="610.1999999999999" y="431.04">8</text>
<text class="t" x="610.1999999999999" y="411.63">10</text>
<text class="t" x="610.1999999999999" y="392.21">12</text>
<text class="t" x="610.1999999999999" y="372.80">14</text>
<path d="M613.5999999999999 505.70H616.8M613.5999999999999 486.29H616.8M613.5999999999999 466.87H616.8M613.5999999999999 447.46H616.8M613.5999999999999 428.04H616.8M613.5999999999999 408.63H616.8M613.5999999999999 389.21H616.8M613.5999999999999 369.80H616.8M616.80 505.7V508.9M660.10 505.7V508.9M703.40 505.7V508.9M746.70 505.7V508.9M790.00 505.7V508.9" stroke="#3a3a3a" stroke-width="0.95" fill="none"/>
<rect x="630.5" y="490" width="17.10" height="15.70" fill="#030303"/>
<path d="M639.05 490V487.6M637.05 487.6H641.05" stroke="#151515" stroke-width="1" fill="none"/>
<rect x="673.6" y="399" width="17.20" height="106.70" fill="#030303"/>
<path d="M682.2 399V385.5M680.2 385.5H684.2" stroke="#151515" stroke-width="1" fill="none"/>
<rect x="717" y="449.4" width="17.00" height="56.30" fill="#030303"/>
<path d="M725.5 449.4V436M723.5 436H727.5" stroke="#151515" stroke-width="1" fill="none"/>
<rect x="760" y="488.8" width="17.00" height="16.90" fill="#030303"/>
<path d="M768.5 488.8V480.3M766.5 480.3H770.5" stroke="#151515" stroke-width="1" fill="none"/>
<text class="st" x="726.5" y="428.9">*</text>
<text class="st" x="769.5" y="478.2">***</text>
<text class="yl" font-size="11" transform="translate(598.6 432) rotate(-90)">Oc.S/BS (%)</text>
<text class="x" x="636.6" y="520.7">Sham</text>
<text class="x" x="677.6" y="520.7">OVX</text>
<text class="x" x="719.5" y="520.7">Fan</text>
<text class="x" style="font-size:8.6px" x="721.5" y="532">(1mg/kg)</text>
<text class="x" x="760.3" y="520.7">Fan</text>
<text class="x" style="font-size:8.6px" x="763.9" y="532">(5mg/kg)</text>
</svg></body></html>
